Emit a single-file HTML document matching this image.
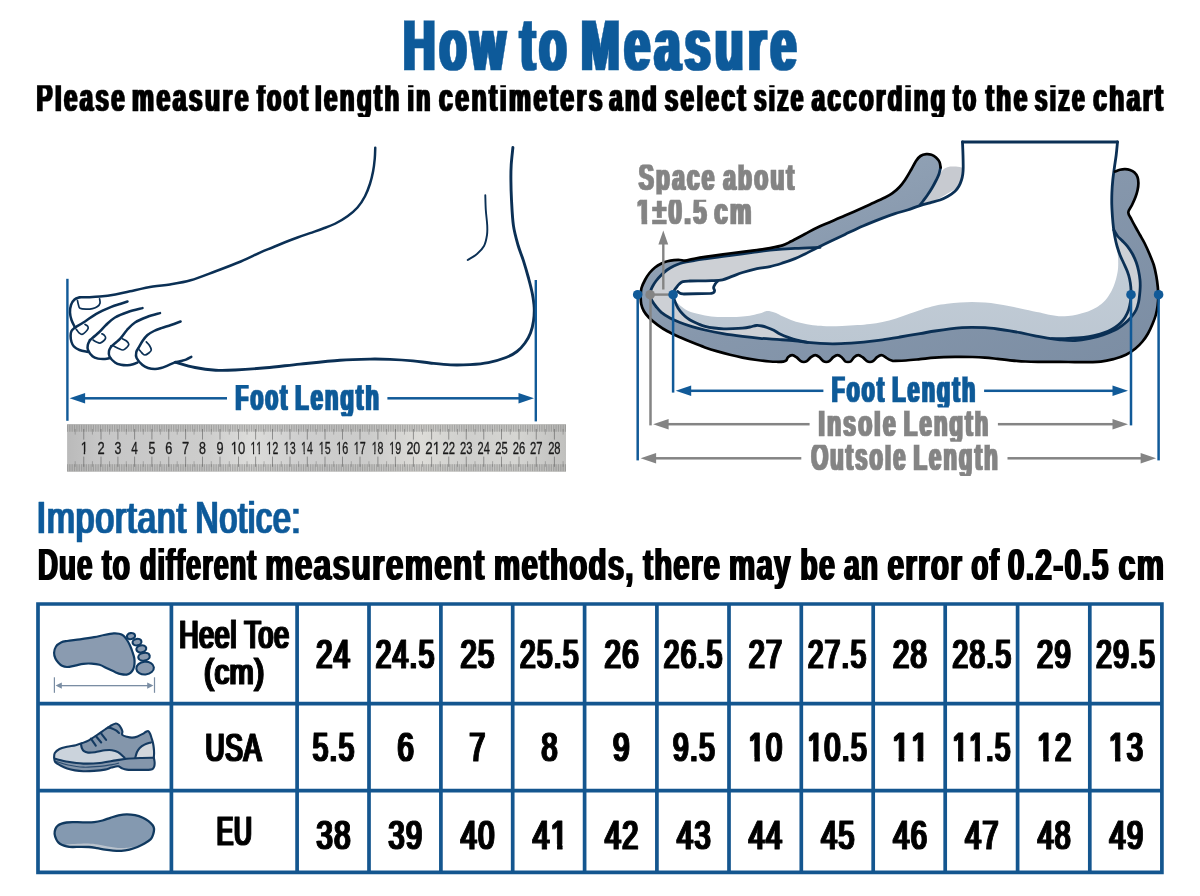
<!DOCTYPE html>
<html lang="en">
<head>
<meta charset="utf-8">
<title>How to Measure</title>
<style>
html,body{margin:0;padding:0;background:#fff;}
body{width:1200px;height:896px;overflow:hidden;font-family:"Liberation Sans", sans-serif;}
svg{display:block;}
text{font-family:"Liberation Sans", sans-serif;}
</style>
</head>
<body>
<svg width="1200" height="896" viewBox="0 0 1200 896">
<defs>
<linearGradient id="gSlate" x1="0" y1="0" x2="1" y2="1">
<stop offset="0" stop-color="#9aabbd"/><stop offset="0.5" stop-color="#8697ac"/><stop offset="1" stop-color="#7b8da3"/>
</linearGradient>
<linearGradient id="gSole" x1="0" y1="0" x2="0" y2="1">
<stop offset="0" stop-color="#8e9fb3"/><stop offset="1" stop-color="#7c8ea4"/>
</linearGradient>
<linearGradient id="gBand" x1="0" y1="0" x2="0" y2="1">
<stop offset="0" stop-color="#cdd5dd"/><stop offset="1" stop-color="#bcc7d2"/>
</linearGradient>
<linearGradient id="gRuler" x1="0" y1="0" x2="1" y2="0">
<stop offset="0" stop-color="#bababa"/><stop offset="0.06" stop-color="#c6c6c6"/><stop offset="0.28" stop-color="#cdcdcc"/><stop offset="0.37" stop-color="#dcdcda"/><stop offset="0.47" stop-color="#cecece"/><stop offset="0.6" stop-color="#cbcbca"/><stop offset="0.71" stop-color="#dddcd8"/><stop offset="0.8" stop-color="#cfcfcd"/><stop offset="0.9" stop-color="#d5d5d2"/><stop offset="1" stop-color="#c0c0be"/>
</linearGradient>
<pattern id="pTick" x="67.1" y="0" width="1.735" height="10" patternUnits="userSpaceOnUse">
<rect x="0" y="0" width="0.75" height="10" fill="#6e6e6e" opacity="0.5"/>
</pattern>
<filter id="d10" x="-2%" y="-10%" width="104%" height="120%"><feMorphology operator="dilate" radius="1 0"/></filter>
<filter id="d20" x="-2%" y="-10%" width="104%" height="120%"><feMorphology operator="dilate" radius="2 0"/></filter>
<filter id="d11" x="-2%" y="-10%" width="104%" height="120%"><feMorphology operator="dilate" radius="1 1"/></filter>
</defs>
<defs><clipPath id="k0"><rect x="0" y="20.6" width="1200" height="51.4"/></clipPath><clipPath id="k1"><rect x="0" y="85.3" width="1200" height="31.6"/></clipPath><clipPath id="k2"><rect x="0" y="384.9" width="1200" height="31.3"/></clipPath><clipPath id="c3"><path clip-rule="evenodd" d="M-400 -400H2000V400H-400ZM-0.91 -2.36H3.99V2.15H-0.91ZM5.73 -2.36H10.47V2.15H5.73Z"/></clipPath><clipPath id="c4"><path clip-rule="evenodd" d="M-400 -400H2000V400H-400ZM-0.91 -2.36H3.99V2.15H-0.91ZM5.73 -2.36H10.47V2.15H5.73Z"/></clipPath><clipPath id="c5"><path clip-rule="evenodd" d="M-400 -400H2000V400H-400ZM-0.91 -2.36H3.99V2.15H-0.91ZM5.73 -2.36H13.09V2.15H5.73ZM14.83 -2.36H19.58V2.15H14.83Z"/></clipPath><clipPath id="c6"><path clip-rule="evenodd" d="M-400 -400H2000V400H-400ZM-0.91 -2.36H3.99V2.15H-0.91ZM5.73 -2.36H10.47V2.15H5.73Z"/></clipPath><clipPath id="c7"><path clip-rule="evenodd" d="M-400 -400H2000V400H-400ZM-0.91 -2.36H3.99V2.15H-0.91ZM5.73 -2.36H10.47V2.15H5.73Z"/></clipPath><clipPath id="c8"><path clip-rule="evenodd" d="M-400 -400H2000V400H-400ZM-0.91 -2.36H3.99V2.15H-0.91ZM5.73 -2.36H10.47V2.15H5.73Z"/></clipPath><clipPath id="c9"><path clip-rule="evenodd" d="M-400 -400H2000V400H-400ZM-0.91 -2.36H3.99V2.15H-0.91ZM5.73 -2.36H10.47V2.15H5.73Z"/></clipPath><clipPath id="c10"><path clip-rule="evenodd" d="M-400 -400H2000V400H-400ZM-0.91 -2.36H3.99V2.15H-0.91ZM5.73 -2.36H10.47V2.15H5.73Z"/></clipPath><clipPath id="c11"><path clip-rule="evenodd" d="M-400 -400H2000V400H-400ZM-0.91 -2.36H3.99V2.15H-0.91ZM5.73 -2.36H10.47V2.15H5.73Z"/></clipPath><clipPath id="c12"><path clip-rule="evenodd" d="M-400 -400H2000V400H-400ZM-0.91 -2.36H3.99V2.15H-0.91ZM5.73 -2.36H10.47V2.15H5.73Z"/></clipPath><clipPath id="c13"><path clip-rule="evenodd" d="M-400 -400H2000V400H-400ZM-0.91 -2.36H3.99V2.15H-0.91ZM5.73 -2.36H10.47V2.15H5.73Z"/></clipPath><clipPath id="c14"><path clip-rule="evenodd" d="M-400 -400H2000V400H-400ZM8.2 -2.36H13.09V2.15H8.2ZM14.83 -2.36H19.58V2.15H14.83Z"/></clipPath><clipPath id="k15"><rect x="0" y="376.5" width="1200" height="30.9"/></clipPath><clipPath id="k16"><rect x="0" y="410.8" width="1200" height="30.9"/></clipPath><clipPath id="k17"><rect x="0" y="444.7" width="1200" height="31.4"/></clipPath><clipPath id="k18"><rect x="0" y="164.6" width="1200" height="30"/></clipPath><clipPath id="k19"><rect x="0" y="199.8" width="1200" height="26.2"/></clipPath><clipPath id="c20"><path clip-rule="evenodd" d="M-400 -400H2000V400H-400ZM-0.05 -5.01H8.22V2.3H-0.05ZM13.77 -5.01H21.49V2.3H13.77Z"/></clipPath><clipPath id="c21"><path clip-rule="evenodd" d="M-400 -400H2000V400H-400ZM0.55 -4.57H9.75V2.55H0.55ZM14.44 -4.57H23.28V2.55H14.44Z"/></clipPath><clipPath id="c22"><path clip-rule="evenodd" d="M-400 -400H2000V400H-400ZM0.55 -4.57H9.75V2.55H0.55ZM14.44 -4.57H23.28V2.55H14.44Z"/></clipPath><clipPath id="c23"><path clip-rule="evenodd" d="M-400 -400H2000V400H-400ZM0.55 -4.57H9.75V2.55H0.55ZM14.44 -4.57H23.28V2.55H14.44ZM25.28 -4.57H34.48V2.55H25.28ZM39.17 -4.57H48.01V2.55H39.17Z"/></clipPath><clipPath id="c24"><path clip-rule="evenodd" d="M-400 -400H2000V400H-400ZM0.55 -4.57H9.75V2.55H0.55ZM14.44 -4.57H23.28V2.55H14.44ZM25.28 -4.57H34.48V2.55H25.28ZM39.17 -4.57H48.01V2.55H39.17Z"/></clipPath><clipPath id="c25"><path clip-rule="evenodd" d="M-400 -400H2000V400H-400ZM0.55 -4.57H9.75V2.55H0.55ZM14.44 -4.57H23.28V2.55H14.44Z"/></clipPath><clipPath id="c26"><path clip-rule="evenodd" d="M-400 -400H2000V400H-400ZM0.55 -4.57H9.75V2.55H0.55ZM14.44 -4.57H23.28V2.55H14.44Z"/></clipPath><clipPath id="c27"><path clip-rule="evenodd" d="M-400 -400H2000V400H-400ZM25.28 -4.57H34.48V2.55H25.28ZM39.17 -4.57H48.01V2.55H39.17Z"/></clipPath></defs>
<g id="title" filter="url(#d20)"><g clip-path="url(#k0)">
<text transform="translate(403.22 69.7) scale(0.5947 1)" font-size="74.57" fill="#0e5a9a" font-weight="bold" stroke="#0e5a9a" stroke-width="0.6" stroke-linejoin="round" letter-spacing="7.08">How</text>
<text transform="translate(520.22 69.7) scale(0.5981 1)" font-size="74.57" fill="#0e5a9a" font-weight="bold" stroke="#0e5a9a" stroke-width="0.6" stroke-linejoin="round" letter-spacing="7.08">to</text>
<text transform="translate(581.09 69.7) scale(0.6237 1)" font-size="74.57" fill="#0e5a9a" font-weight="bold" stroke="#0e5a9a" stroke-width="0.6" stroke-linejoin="round" letter-spacing="7.08">Measure</text>
</g></g>
<g id="subtitle" filter="url(#d10)"><g clip-path="url(#k1)">
<text transform="translate(36.52 111.3) scale(0.6233 1)" font-size="38.53" fill="#000" font-weight="bold" stroke="#000" stroke-width="0.4" stroke-linejoin="round" letter-spacing="3.85">Please</text>
<text transform="translate(131.98 111.3) scale(0.6415 1)" font-size="38.53" fill="#000" font-weight="bold" stroke="#000" stroke-width="0.4" stroke-linejoin="round" letter-spacing="3.85">measure</text>
<text transform="translate(256.98 111.3) scale(0.6044 1)" font-size="38.53" fill="#000" font-weight="bold" stroke="#000" stroke-width="0.4" stroke-linejoin="round" letter-spacing="3.85">foot</text>
<text transform="translate(314.92 111.3) scale(0.6245 1)" font-size="38.53" fill="#000" font-weight="bold" stroke="#000" stroke-width="0.4" stroke-linejoin="round" letter-spacing="3.85">length</text>
<text transform="translate(407.48 111.3) scale(0.6005 1)" font-size="38.53" fill="#000" font-weight="bold" stroke="#000" stroke-width="0.4" stroke-linejoin="round" letter-spacing="3.85">in</text>
<text transform="translate(438.95 111.3) scale(0.6416 1)" font-size="38.53" fill="#000" font-weight="bold" stroke="#000" stroke-width="0.4" stroke-linejoin="round" letter-spacing="3.85">centimeters</text>
<text transform="translate(609.17 111.3) scale(0.6237 1)" font-size="38.53" fill="#000" font-weight="bold" stroke="#000" stroke-width="0.4" stroke-linejoin="round" letter-spacing="3.85">and</text>
<text transform="translate(664.72 111.3) scale(0.6285 1)" font-size="38.53" fill="#000" font-weight="bold" stroke="#000" stroke-width="0.4" stroke-linejoin="round" letter-spacing="3.85">select</text>
<text transform="translate(754.02 111.3) scale(0.5846 1)" font-size="38.53" fill="#000" font-weight="bold" stroke="#000" stroke-width="0.4" stroke-linejoin="round" letter-spacing="3.85">size</text>
<text transform="translate(811.68 111.3) scale(0.6225 1)" font-size="38.53" fill="#000" font-weight="bold" stroke="#000" stroke-width="0.4" stroke-linejoin="round" letter-spacing="3.85">according</text>
<text transform="translate(953.34 111.3) scale(0.5634 1)" font-size="38.53" fill="#000" font-weight="bold" stroke="#000" stroke-width="0.4" stroke-linejoin="round" letter-spacing="3.85">to</text>
<text transform="translate(985.82 111.3) scale(0.6316 1)" font-size="38.53" fill="#000" font-weight="bold" stroke="#000" stroke-width="0.4" stroke-linejoin="round" letter-spacing="3.85">the</text>
<text transform="translate(1034.76 111.3) scale(0.5907 1)" font-size="38.53" fill="#000" font-weight="bold" stroke="#000" stroke-width="0.4" stroke-linejoin="round" letter-spacing="3.85">size</text>
<text transform="translate(1093.21 111.3) scale(0.6359 1)" font-size="38.53" fill="#000" font-weight="bold" stroke="#000" stroke-width="0.4" stroke-linejoin="round" letter-spacing="3.85">chart</text>
</g></g>
<g id="foot-outline" fill="none" stroke="#0b3055" stroke-width="2.5" stroke-linecap="round" stroke-linejoin="round">
<path d="M375.25 147.8 C375.17 149.62 375.11 154.84 374.75 158.75 C374.39 162.66 373.89 167.08 373.1 171.25 C372.31 175.42 371.35 179.58 370 183.75 C368.65 187.92 367.08 192.29 365 196.25 C362.92 200.21 360.42 204.17 357.5 207.5 C354.58 210.83 351.25 213.54 347.5 216.25 C343.75 218.96 339.17 221.67 335 223.75 C330.83 225.83 326.67 227.19 322.5 228.75 C318.33 230.31 314.17 231.64 310 233.1 C305.83 234.56 301.67 235.97 297.5 237.5 C293.33 239.03 289.17 240.58 285 242.25 C280.83 243.92 276.67 245.78 272.5 247.5 C268.33 249.22 265.28 250.27 260 252.6 C254.72 254.93 248.3 258.35 240.8 261.5 C233.3 264.65 223.37 268.37 215 271.5 C206.63 274.63 198.1 278.13 190.6 280.3 C183.1 282.47 176.27 283.45 170 284.5 C163.73 285.55 159.67 285.47 153 286.6 C146.33 287.73 136.28 289.98 130 291.3 C123.72 292.62 120.3 293.62 115.3 294.5 C110.3 295.38 104.55 296.15 100 296.6 C95.45 297.05 91.33 297.1 88 297.2 C84.67 297.3 81.33 297.2 80 297.2"/>
<path d="M512.9 147.5 C512.62 150.42 511.53 159.58 511.2 165 C510.87 170.42 510.85 174.17 510.9 180 C510.95 185.83 511.08 192.43 511.5 200 C511.92 207.57 512.32 217.9 513.4 225.4 C514.48 232.9 516.33 239.13 518 245 C519.67 250.87 521.65 255.1 523.4 260.6 C525.15 266.1 527.03 272.6 528.5 278 C529.97 283.4 531.25 288.05 532.2 293 C533.15 297.95 533.98 303.03 534.2 307.7 C534.42 312.37 534.12 316.78 533.5 321 C532.88 325.22 531.92 329.33 530.5 333 C529.08 336.67 527.25 339.92 525 343 C522.75 346.08 520.17 349.08 517 351.5 C513.83 353.92 510.78 355.65 506 357.5 C501.22 359.35 494.3 361.42 488.3 362.6 C482.3 363.78 476.28 364.22 470 364.6 C463.72 364.98 457.27 365.17 450.6 364.9 C443.93 364.63 436.27 363.67 430 363 C423.73 362.33 419.67 361.5 413 360.9 C406.33 360.3 397.12 359.7 390 359.4 C382.88 359.1 378.63 358.97 370.3 359.1 C361.97 359.23 351.72 359.37 340 360.2 C328.28 361.03 312.33 362.83 300 364.1 C287.67 365.37 276.83 366.82 266 367.8 C255.17 368.78 243.38 369.6 235 370 C226.62 370.4 222.37 370.62 215.7 370.2 C209.03 369.78 201.7 368.83 195 367.5 C188.3 366.17 178.75 363.08 175.5 362.2" stroke-width="2.9"/>
<path d="M485.3 195.3 C485.38 197.75 485.48 205.05 485.8 210 C486.12 214.95 487 220.83 487.2 225 C487.4 229.17 487.53 231.5 487 235 C486.47 238.5 485.67 242.83 484 246 C482.33 249.17 479.72 251.67 477 254 C474.28 256.33 469.25 259 467.7 260" stroke-width="1.9"/>
<path d="M80 297.2 C79.08 297.58 76 298.2 74.5 299.5 C73 300.8 71.75 302.83 71 305 C70.25 307.17 69.92 310 70 312.5 C70.08 315 70.67 317.5 71.5 320 C72.33 322.5 74.42 326.25 75 327.5"/>
<path d="M75 327.5 C76.67 326.5 81.45 323.78 85 321.5 C88.55 319.22 91.92 316.23 96.3 313.8 C100.68 311.37 107.35 308.53 111.3 306.9 C115.25 305.27 117.3 304.9 120 304 C122.7 303.1 126.25 301.92 127.5 301.5"/>
<path d="M75 327.5 C74.42 328.08 72.23 329.58 71.5 331 C70.77 332.42 70.6 334.17 70.6 336 C70.6 337.83 70.97 340.28 71.5 342 C72.03 343.72 72.47 344.97 73.8 346.3 C75.13 347.63 77.22 349.07 79.5 350 C81.78 350.93 86.17 351.58 87.5 351.9"/>
<path d="M90 340 C91.47 338.75 96.13 335 98.8 332.5 C101.47 330 103.3 327.5 106 325 C108.7 322.5 111.33 319.67 115 317.5 C118.67 315.33 123.42 313.57 128 312 C132.58 310.43 140.08 308.75 142.5 308.1"/>
<path d="M90 340 C89.63 340.83 88.13 343.33 87.8 345 C87.47 346.67 87.22 348.12 88 350 C88.78 351.88 90.83 354.87 92.5 356.3 C94.17 357.73 95.92 358.15 98 358.6 C100.08 359.05 103 359.1 105 359 C107 358.9 109.17 358.17 110 358"/>
<path d="M111.3 346.3 C112.75 345.05 117.38 341.52 120 338.8 C122.62 336.08 124.5 332.72 127 330 C129.5 327.28 131.67 324.67 135 322.5 C138.33 320.33 142.83 318.57 147 317 C151.17 315.43 157.83 313.75 160 313.1"/>
<path d="M111.3 346.3 C110.92 347.08 109.3 349.3 109 351 C108.7 352.7 108.5 354.58 109.5 356.5 C110.5 358.42 113.08 361.12 115 362.5 C116.92 363.88 118.92 364.33 121 364.8 C123.08 365.27 125.5 365.38 127.5 365.3 C129.5 365.22 131.33 364.77 133 364.3 C134.67 363.83 136.75 362.8 137.5 362.5"/>
<path d="M138.8 347.5 C139.42 346.42 141.05 343.08 142.5 341 C143.95 338.92 145.58 336.67 147.5 335 C149.42 333.33 151.7 332.15 154 331 C156.3 329.85 158.47 329.1 161.3 328.1 C164.13 327.1 167.78 326.1 171 325 C174.22 323.9 179 322.08 180.6 321.5"/>
<path d="M138.8 347.5 C138.38 348.25 136.67 350.25 136.3 352 C135.93 353.75 135.57 355.83 136.6 358 C137.63 360.17 140.6 363.33 142.5 365 C144.4 366.67 145.92 367.33 148 368 C150.08 368.67 152.83 369 155 369 C157.17 369 158.92 368.57 161 368 C163.08 367.43 165.08 366.57 167.5 365.6 C169.92 364.63 174.17 362.77 175.5 362.2"/>
<path d="M175.5 362.2 C176.42 362 179.25 361.43 181 361 C182.75 360.57 184.28 360.28 186 359.6 C187.72 358.92 190.42 357.35 191.3 356.9"/>
<g stroke-width="1.7">
<path d="M77.5 300.6 C77.67 301.33 78.08 303.72 78.5 305 C78.92 306.28 78.75 307.6 80 308.3 C81.25 309 83.92 309.15 86 309.2 C88.08 309.25 90.58 309.05 92.5 308.6 C94.42 308.15 96.25 307.4 97.5 306.5 C98.75 305.6 99.65 304.48 100 303.2 C100.35 301.92 99.67 299.53 99.6 298.8"/>
<path d="M76.3 329.4 C76.75 329.97 78.05 331.97 79 332.8 C79.95 333.63 80.92 334.53 82 334.4 C83.08 334.27 84.48 333 85.5 332 C86.52 331 87.77 329.4 88.1 328.4 C88.43 327.4 88.02 326.67 87.5 326 C86.98 325.33 85.42 324.67 85 324.4"/>
<path d="M93.1 340 C93.67 340.33 95.35 341.48 96.5 342 C97.65 342.52 98.83 343.27 100 343.1 C101.17 342.93 102.57 341.85 103.5 341 C104.43 340.15 105.43 338.92 105.6 338 C105.77 337.08 105.12 336.2 104.5 335.5 C103.88 334.8 102.33 334.08 101.9 333.8"/>
<path d="M113.1 345.6 C113.92 346.03 116.33 347.47 118 348.2 C119.67 348.93 121.63 350.12 123.1 350 C124.57 349.88 125.85 348.47 126.8 347.5 C127.75 346.53 128.85 345.28 128.8 344.2 C128.75 343.12 127.55 341.9 126.5 341 C125.45 340.1 123.17 339.17 122.5 338.8"/>
<path d="M139.4 350 C139.83 350.5 141.07 352.17 142 353 C142.93 353.83 143.87 355 145 355 C146.13 355 147.75 353.83 148.8 353 C149.85 352.17 151.18 351.25 151.3 350 C151.42 348.75 150.33 346.85 149.5 345.5 C148.67 344.15 146.83 342.5 146.3 341.9"/>
</g>
</g>
<g id="left-measure">
<rect x="66.2" y="278.8" width="2.4" height="142" fill="#115a98"/>
<rect x="534.6" y="280" width="2.4" height="141.4" fill="#115a98"/>
<path d="M69.6 398.3L85.1 393.1L85.1 403.5Z" fill="#115a98"/><rect x="84.1" y="397.05" width="142.9" height="2.5" fill="#115a98"/>
<path d="M534 398.3L518.5 393.1L518.5 403.5Z" fill="#115a98"/><rect x="387.4" y="397.05" width="132.1" height="2.5" fill="#115a98"/>
<g id="label-left" filter="url(#d10)"><g clip-path="url(#k2)">
<text transform="translate(235.52 410.4) scale(0.5566 1)" font-size="37.75" fill="#115a98" font-weight="bold" stroke="#115a98" stroke-width="0.6" stroke-linejoin="round" letter-spacing="3.77">Foot</text>
<text transform="translate(295.22 410.4) scale(0.5782 1)" font-size="37.75" fill="#115a98" font-weight="bold" stroke="#115a98" stroke-width="0.6" stroke-linejoin="round" letter-spacing="3.77">Length</text>
</g></g>
</g>
<g id="ruler">
<rect x="67.1" y="424" width="498.9" height="47.8" fill="url(#gRuler)"/>
<rect x="67.1" y="424" width="498.9" height="7.4" fill="#b4b4b2" opacity="0.35"/>
<rect x="67.1" y="464.2" width="498.9" height="7.6" fill="#b4b4b2" opacity="0.35"/>
<rect x="67.1" y="424.8" width="498.9" height="7" fill="url(#pTick)"/>
<rect x="67.1" y="464.2" width="498.9" height="7" fill="url(#pTick)"/>
<g fill="#555" opacity="0.55"><rect x="83.25" y="429" width="1" height="10.6"/><rect x="83.25" y="456.6" width="1" height="10.2"/><rect x="91.92" y="429" width="0.9" height="5.6" opacity="0.7"/><rect x="91.92" y="461.2" width="0.9" height="5.6" opacity="0.7"/><rect x="100.5" y="429" width="1" height="10.6"/><rect x="100.5" y="456.6" width="1" height="10.2"/><rect x="109" y="429" width="0.9" height="5.6" opacity="0.7"/><rect x="109" y="461.2" width="0.9" height="5.6" opacity="0.7"/><rect x="117.4" y="429" width="1" height="10.6"/><rect x="117.4" y="456.6" width="1" height="10.2"/><rect x="125.8" y="429" width="0.9" height="5.6" opacity="0.7"/><rect x="125.8" y="461.2" width="0.9" height="5.6" opacity="0.7"/><rect x="134.1" y="429" width="1" height="10.6"/><rect x="134.1" y="456.6" width="1" height="10.2"/><rect x="142.8" y="429" width="0.9" height="5.6" opacity="0.7"/><rect x="142.8" y="461.2" width="0.9" height="5.6" opacity="0.7"/><rect x="151.4" y="429" width="1" height="10.6"/><rect x="151.4" y="456.6" width="1" height="10.2"/><rect x="159.88" y="429" width="0.9" height="5.6" opacity="0.7"/><rect x="159.88" y="461.2" width="0.9" height="5.6" opacity="0.7"/><rect x="168.25" y="429" width="1" height="10.6"/><rect x="168.25" y="456.6" width="1" height="10.2"/><rect x="176.73" y="429" width="0.9" height="5.6" opacity="0.7"/><rect x="176.73" y="461.2" width="0.9" height="5.6" opacity="0.7"/><rect x="185.1" y="429" width="1" height="10.6"/><rect x="185.1" y="456.6" width="1" height="10.2"/><rect x="193.6" y="429" width="0.9" height="5.6" opacity="0.7"/><rect x="193.6" y="461.2" width="0.9" height="5.6" opacity="0.7"/><rect x="202" y="429" width="1" height="10.6"/><rect x="202" y="456.6" width="1" height="10.2"/><rect x="210.8" y="429" width="0.9" height="5.6" opacity="0.7"/><rect x="210.8" y="461.2" width="0.9" height="5.6" opacity="0.7"/><rect x="219.5" y="429" width="1" height="10.6"/><rect x="219.5" y="456.6" width="1" height="10.2"/><rect x="228.8" y="429" width="0.9" height="5.6" opacity="0.7"/><rect x="228.8" y="461.2" width="0.9" height="5.6" opacity="0.7"/><rect x="238" y="429" width="1" height="10.6"/><rect x="238" y="456.6" width="1" height="10.2"/><rect x="246.6" y="429" width="0.9" height="5.6" opacity="0.7"/><rect x="246.6" y="461.2" width="0.9" height="5.6" opacity="0.7"/><rect x="255.1" y="429" width="1" height="10.6"/><rect x="255.1" y="456.6" width="1" height="10.2"/><rect x="263.6" y="429" width="0.9" height="5.6" opacity="0.7"/><rect x="263.6" y="461.2" width="0.9" height="5.6" opacity="0.7"/><rect x="272" y="429" width="1" height="10.6"/><rect x="272" y="456.6" width="1" height="10.2"/><rect x="280.8" y="429" width="0.9" height="5.6" opacity="0.7"/><rect x="280.8" y="461.2" width="0.9" height="5.6" opacity="0.7"/><rect x="289.5" y="429" width="1" height="10.6"/><rect x="289.5" y="456.6" width="1" height="10.2"/><rect x="298.2" y="429" width="0.9" height="5.6" opacity="0.7"/><rect x="298.2" y="461.2" width="0.9" height="5.6" opacity="0.7"/><rect x="306.8" y="429" width="1" height="10.6"/><rect x="306.8" y="456.6" width="1" height="10.2"/><rect x="315.7" y="429" width="0.9" height="5.6" opacity="0.7"/><rect x="315.7" y="461.2" width="0.9" height="5.6" opacity="0.7"/><rect x="324.5" y="429" width="1" height="10.6"/><rect x="324.5" y="456.6" width="1" height="10.2"/><rect x="333.3" y="429" width="0.9" height="5.6" opacity="0.7"/><rect x="333.3" y="461.2" width="0.9" height="5.6" opacity="0.7"/><rect x="342" y="429" width="1" height="10.6"/><rect x="342" y="456.6" width="1" height="10.2"/><rect x="350.8" y="429" width="0.9" height="5.6" opacity="0.7"/><rect x="350.8" y="461.2" width="0.9" height="5.6" opacity="0.7"/><rect x="359.5" y="429" width="1" height="10.6"/><rect x="359.5" y="456.6" width="1" height="10.2"/><rect x="368.5" y="429" width="0.9" height="5.6" opacity="0.7"/><rect x="368.5" y="461.2" width="0.9" height="5.6" opacity="0.7"/><rect x="377.4" y="429" width="1" height="10.6"/><rect x="377.4" y="456.6" width="1" height="10.2"/><rect x="386.2" y="429" width="0.9" height="5.6" opacity="0.7"/><rect x="386.2" y="461.2" width="0.9" height="5.6" opacity="0.7"/><rect x="394.9" y="429" width="1" height="10.6"/><rect x="394.9" y="456.6" width="1" height="10.2"/><rect x="403.95" y="429" width="0.9" height="5.6" opacity="0.7"/><rect x="403.95" y="461.2" width="0.9" height="5.6" opacity="0.7"/><rect x="412.9" y="429" width="1" height="10.6"/><rect x="412.9" y="456.6" width="1" height="10.2"/><rect x="422.05" y="429" width="0.9" height="5.6" opacity="0.7"/><rect x="422.05" y="461.2" width="0.9" height="5.6" opacity="0.7"/><rect x="431.1" y="429" width="1" height="10.6"/><rect x="431.1" y="456.6" width="1" height="10.2"/><rect x="439.73" y="429" width="0.9" height="5.6" opacity="0.7"/><rect x="439.73" y="461.2" width="0.9" height="5.6" opacity="0.7"/><rect x="448.25" y="429" width="1" height="10.6"/><rect x="448.25" y="456.6" width="1" height="10.2"/><rect x="457.05" y="429" width="0.9" height="5.6" opacity="0.7"/><rect x="457.05" y="461.2" width="0.9" height="5.6" opacity="0.7"/><rect x="465.75" y="429" width="1" height="10.6"/><rect x="465.75" y="456.6" width="1" height="10.2"/><rect x="474.55" y="429" width="0.9" height="5.6" opacity="0.7"/><rect x="474.55" y="461.2" width="0.9" height="5.6" opacity="0.7"/><rect x="483.25" y="429" width="1" height="10.6"/><rect x="483.25" y="456.6" width="1" height="10.2"/><rect x="492.18" y="429" width="0.9" height="5.6" opacity="0.7"/><rect x="492.18" y="461.2" width="0.9" height="5.6" opacity="0.7"/><rect x="501" y="429" width="1" height="10.6"/><rect x="501" y="456.6" width="1" height="10.2"/><rect x="509.8" y="429" width="0.9" height="5.6" opacity="0.7"/><rect x="509.8" y="461.2" width="0.9" height="5.6" opacity="0.7"/><rect x="518.5" y="429" width="1" height="10.6"/><rect x="518.5" y="456.6" width="1" height="10.2"/><rect x="527.17" y="429" width="0.9" height="5.6" opacity="0.7"/><rect x="527.17" y="461.2" width="0.9" height="5.6" opacity="0.7"/><rect x="535.75" y="429" width="1" height="10.6"/><rect x="535.75" y="456.6" width="1" height="10.2"/><rect x="544.88" y="429" width="0.9" height="5.6" opacity="0.7"/><rect x="544.88" y="461.2" width="0.9" height="5.6" opacity="0.7"/><rect x="553.9" y="429" width="1" height="10.6"/><rect x="553.9" y="456.6" width="1" height="10.2"/><rect x="562.65" y="429" width="0.9" height="5.6" opacity="0.7"/><rect x="562.65" y="461.2" width="0.9" height="5.6" opacity="0.7"/><rect x="74.7" y="429" width="0.9" height="5.6" opacity="0.7"/><rect x="74.7" y="461.2" width="0.9" height="5.6" opacity="0.7"/></g>
<g id="ruler-numbers">
<text transform="translate(80.63 454.01) scale(0.7860 1)" font-size="16.38" fill="#1a1a1a" stroke="#1a1a1a" stroke-width="0.3" stroke-linejoin="round" clip-path="url(#c3)" style="font-kerning:none">1</text>
<text transform="translate(97.42 454.01) scale(0.7884 1)" font-size="16.38" fill="#1a1a1a" stroke="#1a1a1a" stroke-width="0.3" stroke-linejoin="round">2</text>
<text transform="translate(114.5 454.01) scale(0.7551 1)" font-size="16.38" fill="#1a1a1a" stroke="#1a1a1a" stroke-width="0.3" stroke-linejoin="round">3</text>
<text transform="translate(131.36 454.01) scale(0.7186 1)" font-size="16.38" fill="#1a1a1a" stroke="#1a1a1a" stroke-width="0.3" stroke-linejoin="round">4</text>
<text transform="translate(148.44 454.01) scale(0.7615 1)" font-size="16.38" fill="#1a1a1a" stroke="#1a1a1a" stroke-width="0.3" stroke-linejoin="round">5</text>
<text transform="translate(165.18 454.01) scale(0.7747 1)" font-size="16.38" fill="#1a1a1a" stroke="#1a1a1a" stroke-width="0.3" stroke-linejoin="round">6</text>
<text transform="translate(182.02 454.01) scale(0.7884 1)" font-size="16.38" fill="#1a1a1a" stroke="#1a1a1a" stroke-width="0.3" stroke-linejoin="round">7</text>
<text transform="translate(199.04 454.01) scale(0.7615 1)" font-size="16.38" fill="#1a1a1a" stroke="#1a1a1a" stroke-width="0.3" stroke-linejoin="round">8</text>
<text transform="translate(216.48 454.01) scale(0.7747 1)" font-size="16.38" fill="#1a1a1a" stroke="#1a1a1a" stroke-width="0.3" stroke-linejoin="round">9</text>
<text transform="translate(230.87 454.01) scale(0.7958 1)" font-size="16.38" fill="#1a1a1a" stroke="#1a1a1a" stroke-width="0.3" stroke-linejoin="round" clip-path="url(#c4)" style="font-kerning:none">10</text>
<text transform="translate(250.51 454.01) scale(0.6268 1)" font-size="16.38" fill="#1a1a1a" stroke="#1a1a1a" stroke-width="0.3" stroke-linejoin="round" clip-path="url(#c5)" style="font-kerning:none">11</text>
<text transform="translate(266.26 454.01) scale(0.6656 1)" font-size="16.38" fill="#1a1a1a" stroke="#1a1a1a" stroke-width="0.3" stroke-linejoin="round" clip-path="url(#c6)" style="font-kerning:none">12</text>
<text transform="translate(283.77 454.01) scale(0.6544 1)" font-size="16.38" fill="#1a1a1a" stroke="#1a1a1a" stroke-width="0.3" stroke-linejoin="round" clip-path="url(#c7)" style="font-kerning:none">13</text>
<text transform="translate(301.09 454.01) scale(0.6435 1)" font-size="16.38" fill="#1a1a1a" stroke="#1a1a1a" stroke-width="0.3" stroke-linejoin="round" clip-path="url(#c8)" style="font-kerning:none">14</text>
<text transform="translate(318.78 454.01) scale(0.6516 1)" font-size="16.38" fill="#1a1a1a" stroke="#1a1a1a" stroke-width="0.3" stroke-linejoin="round" clip-path="url(#c9)" style="font-kerning:none">15</text>
<text transform="translate(336.27 454.01) scale(0.6544 1)" font-size="16.38" fill="#1a1a1a" stroke="#1a1a1a" stroke-width="0.3" stroke-linejoin="round" clip-path="url(#c10)" style="font-kerning:none">16</text>
<text transform="translate(353.77 454.01) scale(0.6571 1)" font-size="16.38" fill="#1a1a1a" stroke="#1a1a1a" stroke-width="0.3" stroke-linejoin="round" clip-path="url(#c11)" style="font-kerning:none">17</text>
<text transform="translate(371.68 454.01) scale(0.6516 1)" font-size="16.38" fill="#1a1a1a" stroke="#1a1a1a" stroke-width="0.3" stroke-linejoin="round" clip-path="url(#c12)" style="font-kerning:none">18</text>
<text transform="translate(389.17 454.01) scale(0.6544 1)" font-size="16.38" fill="#1a1a1a" stroke="#1a1a1a" stroke-width="0.3" stroke-linejoin="round" clip-path="url(#c13)" style="font-kerning:none">19</text>
<text transform="translate(406.39 454.01) scale(0.7609 1)" font-size="16.38" fill="#1a1a1a" stroke="#1a1a1a" stroke-width="0.3" stroke-linejoin="round">20</text>
<text transform="translate(425.19 454.01) scale(0.8237 1)" font-size="16.38" fill="#1a1a1a" stroke="#1a1a1a" stroke-width="0.3" stroke-linejoin="round" clip-path="url(#c14)" style="font-kerning:none">21</text>
<text transform="translate(442.49 454.01) scale(0.6872 1)" font-size="16.38" fill="#1a1a1a" stroke="#1a1a1a" stroke-width="0.3" stroke-linejoin="round">22</text>
<text transform="translate(459.99 454.01) scale(0.6844 1)" font-size="16.38" fill="#1a1a1a" stroke="#1a1a1a" stroke-width="0.3" stroke-linejoin="round">23</text>
<text transform="translate(477.5 454.01) scale(0.6735 1)" font-size="16.38" fill="#1a1a1a" stroke="#1a1a1a" stroke-width="0.3" stroke-linejoin="round">24</text>
<text transform="translate(495.24 454.01) scale(0.6816 1)" font-size="16.38" fill="#1a1a1a" stroke="#1a1a1a" stroke-width="0.3" stroke-linejoin="round">25</text>
<text transform="translate(512.74 454.01) scale(0.6844 1)" font-size="16.38" fill="#1a1a1a" stroke="#1a1a1a" stroke-width="0.3" stroke-linejoin="round">26</text>
<text transform="translate(529.99 454.01) scale(0.6872 1)" font-size="16.38" fill="#1a1a1a" stroke="#1a1a1a" stroke-width="0.3" stroke-linejoin="round">27</text>
<text transform="translate(548.14 454.01) scale(0.6816 1)" font-size="16.38" fill="#1a1a1a" stroke="#1a1a1a" stroke-width="0.3" stroke-linejoin="round">28</text>
</g>
</g>
<g id="shoe">
<path d="M640.6 296 C640.75 294.67 640.77 290.67 641.5 288 C642.23 285.33 643.67 282.5 645 280 C646.33 277.5 647.83 275.08 649.5 273 C651.17 270.92 653.08 269.05 655 267.5 C656.92 265.95 658.92 264.73 661 263.7 C663.08 262.67 665.33 261.88 667.5 261.3 C669.67 260.72 671.92 260.42 674 260.2 C676.08 259.98 678.17 259.93 680 260 C681.83 260.07 682.67 260.8 685 260.6 C687.33 260.4 690.67 259.42 694 258.8 C697.33 258.18 700.17 257.65 705 256.9 C709.83 256.15 716.75 255.13 723 254.3 C729.25 253.47 736.83 252.62 742.5 251.9 C748.17 251.18 752.42 250.63 757 250 C761.58 249.37 765.75 248.87 770 248.1 C774.25 247.33 778.95 246.53 782.5 245.4 C786.05 244.27 787.55 243.2 791.3 241.3 C795.05 239.4 800.22 236.5 805 234 C809.78 231.5 813.33 229.37 820 226.3 C826.67 223.23 836.67 219.25 845 215.6 C853.33 211.95 863.33 207.42 870 204.4 C876.67 201.38 881.25 199.37 885 197.5 C888.75 195.63 890.08 194.95 892.5 193.2 C894.92 191.45 897.42 189.2 899.5 187 C901.58 184.8 903.08 182.83 905 180 C906.92 177.17 909.17 173.17 911 170 C912.83 166.83 914.42 163.33 916 161 C917.58 158.67 918.78 157.13 920.5 156 C922.22 154.87 924.47 154.4 926.3 154.2 C928.13 154 929.88 154.25 931.5 154.8 C933.12 155.35 934.67 156.3 936 157.5 C937.33 158.7 938.73 160.33 939.5 162 C940.27 163.67 940.42 166.58 940.6 167.5 C940.33 168.58 939.72 171.92 939 174 C938.28 176.08 937.47 177.67 936.3 180 C935.13 182.33 933.47 185.5 932 188 C930.53 190.5 928.92 192.92 927.5 195 C926.08 197.08 924.75 198.83 923.5 200.5 C922.25 202.17 920.58 204.25 920 205 L1115 171.6 C1115.83 171.3 1118.33 170.2 1120 169.8 C1121.67 169.4 1123.33 169.17 1125 169.2 C1126.67 169.23 1128.42 169.45 1130 170 C1131.58 170.55 1133.25 171.33 1134.5 172.5 C1135.75 173.67 1136.85 175.25 1137.5 177 C1138.15 178.75 1138.38 180.83 1138.4 183 C1138.42 185.17 1138.08 187.67 1137.6 190 C1137.12 192.33 1136.43 194.5 1135.5 197 C1134.57 199.5 1133.2 202.45 1132 205 C1130.8 207.55 1128.38 209.88 1128.3 212.3 C1128.22 214.72 1130.3 217.05 1131.5 219.5 C1132.7 221.95 1134.08 224.42 1135.5 227 C1136.92 229.58 1138.5 232.33 1140 235 C1141.5 237.67 1142.92 239.83 1144.5 243 C1146.08 246.17 1147.95 250.33 1149.5 254 C1151.05 257.67 1152.67 261.33 1153.8 265 C1154.93 268.67 1155.63 272.33 1156.3 276 C1156.97 279.67 1157.47 283.67 1157.8 287 C1158.13 290.33 1158.33 292.83 1158.3 296 C1158.27 299.17 1158.02 302.83 1157.6 306 C1157.18 309.17 1156.65 312 1155.8 315 C1154.95 318 1153.8 320.92 1152.5 324 C1151.2 327.08 1149.67 330.58 1148 333.5 C1146.33 336.42 1144.58 339 1142.5 341.5 C1140.42 344 1138.25 346.28 1135.5 348.5 C1132.75 350.72 1129.58 353.05 1126 354.8 C1122.42 356.55 1118.2 357.87 1114 359 C1109.8 360.13 1106.47 361.07 1100.8 361.6 C1095.13 362.13 1086.8 362.17 1080 362.2 C1073.2 362.23 1066.67 361.87 1060 361.8 C1053.33 361.73 1045.75 361.85 1040 361.8 C1034.25 361.75 1030.5 361.75 1025.5 361.5 C1020.5 361.25 1014.67 360.73 1010 360.3 C1005.33 359.87 1001.67 359.35 997.5 358.9 C993.33 358.45 989.17 357.92 985 357.6 C980.83 357.28 977.5 357.12 972.5 357 C967.5 356.88 961.25 356.8 955 356.9 C948.75 357 940.83 357.22 935 357.6 C929.17 357.98 924.83 358.72 920 359.2 C915.17 359.68 910.5 360.2 906 360.5 C901.5 360.8 895.17 360.92 893 361 C888 359.53 886.7 358 885.5 357.2 C884.3 356.4 882.7 355.2 881.3 355.2 C879.9 355.2 878.48 356.2 877.1 357.2 C875.72 358.2 874.18 360.4 873 361.2 C871.82 362 871 362 870 362 C869 362 868.25 362 867 361.2 C865.75 360.4 863.95 358.2 862.5 357.2 C861.05 356.2 859.7 355.2 858.3 355.2 C856.9 355.2 855.32 356.2 854.1 357.2 C852.88 358.2 852.02 360.4 851 361.2 C849.98 362 849 362 848 362 C847 362 846.05 362 845 361.2 C843.95 360.4 842.95 358.2 841.7 357.2 C840.45 356.2 838.9 355.2 837.5 355.2 C836.1 355.2 834.67 356.2 833.3 357.2 C831.93 358.2 830.47 360.4 829.3 361.2 C828.13 362 827.3 362 826.3 362 C825.3 362 824.45 362 823.3 361.2 C822.15 360.4 820.75 358.2 819.4 357.2 C818.05 356.2 816.6 355.2 815.2 355.2 C813.8 355.2 812.4 356.2 811 357.2 C809.6 358.2 808 360.4 806.8 361.2 C805.6 362 804.8 362 803.8 362 C802.8 362 802.03 362 800.8 361.2 C799.57 360.4 797.83 358.2 796.4 357.2 C794.97 356.2 793.6 355.2 792.2 355.2 C790.8 355.2 789 356.3 788 357.2 C787 358.1 787.03 359.87 786.2 360.6 C785.37 361.33 784.37 361.4 783 361.6 C781.63 361.8 778.83 361.77 778 361.8 C776.67 361.75 773.5 361.8 770 361.5 C766.5 361.2 761.58 360.65 757 360 C752.42 359.35 747 358.47 742.5 357.6 C738 356.73 734.17 355.83 730 354.8 C725.83 353.77 721.67 352.63 717.5 351.4 C713.33 350.17 709.17 348.87 705 347.4 C700.83 345.93 696.67 344.28 692.5 342.6 C688.33 340.92 684.17 339.18 680 337.3 C675.83 335.42 671.25 333.38 667.5 331.3 C663.75 329.22 660.62 327.1 657.5 324.8 C654.38 322.5 651.08 319.8 648.8 317.5 C646.52 315.2 645.07 313.25 643.8 311 C642.53 308.75 641.73 306.5 641.2 304 C640.67 301.5 640.7 297.33 640.6 296Z" fill="url(#gSlate)"/>
<path d="M650 294.6 C650.13 293.92 650.38 291.85 650.8 290.5 C651.22 289.15 651.63 288.08 652.5 286.5 C653.37 284.92 654.53 282.92 656 281 C657.47 279.08 659.47 276.83 661.3 275 C663.13 273.17 664.92 271.5 667 270 C669.08 268.5 671.63 267.08 673.8 266 C675.97 264.92 677.92 264.18 680 263.5 C682.08 262.82 683.8 262.42 686.3 261.9 C688.8 261.38 691.88 260.9 695 260.4 C698.12 259.9 700.33 259.58 705 258.9 C709.67 258.22 716.75 257.15 723 256.3 C729.25 255.45 736.83 254.55 742.5 253.8 C748.17 253.05 752.42 252.4 757 251.8 C761.58 251.2 767.83 250.47 770 250.2 L820 247.6 L830 300 L1100 300 L1113.8 230 C1114.42 231 1116.13 234.25 1117.5 236 C1118.87 237.75 1120.33 238.78 1122 240.5 C1123.67 242.22 1125.75 244.05 1127.5 246.3 C1129.25 248.55 1131.03 251.3 1132.5 254 C1133.97 256.7 1135.28 259.67 1136.3 262.5 C1137.32 265.33 1137.98 268.08 1138.6 271 C1139.22 273.92 1139.73 277.33 1140 280 C1140.27 282.67 1140.27 284.5 1140.2 287 C1140.13 289.5 1139.87 292.5 1139.6 295 C1139.33 297.5 1139.15 299.58 1138.6 302 C1138.05 304.42 1137.32 307.25 1136.3 309.5 C1135.28 311.75 1133.97 313.58 1132.5 315.5 C1131.03 317.42 1129.25 319.32 1127.5 321 C1125.75 322.68 1124.08 324.1 1122 325.6 C1119.92 327.1 1118.17 328.47 1115 330 C1111.83 331.53 1107.17 333.4 1103 334.8 C1098.83 336.2 1094.67 337.45 1090 338.4 C1085.33 339.35 1080 340.27 1075 340.5 C1070 340.73 1064.58 340.18 1060 339.8 C1055.42 339.42 1051.67 338.87 1047.5 338.2 C1043.33 337.53 1039.17 336.63 1035 335.8 C1030.83 334.97 1026.67 334.03 1022.5 333.2 C1018.33 332.37 1014.17 331.5 1010 330.8 C1005.83 330.1 1001.67 329.52 997.5 329 C993.33 328.48 989.17 327.98 985 327.7 C980.83 327.42 976.33 327.32 972.5 327.3 C968.67 327.28 965.75 327.35 962 327.6 C958.25 327.85 954.5 328.23 950 328.8 C945.5 329.37 940 330.2 935 331 C930 331.8 925.83 332.6 920 333.6 C914.17 334.6 906.25 335.97 900 337 C893.75 338.03 887.5 339.07 882.5 339.8 C877.5 340.53 874.17 340.93 870 341.4 C865.83 341.87 861.67 342.27 857.5 342.6 C853.33 342.93 849.17 343.2 845 343.4 C840.83 343.6 836.67 343.8 832.5 343.8 C828.33 343.8 824.17 343.63 820 343.4 C815.83 343.17 811.67 342.83 807.5 342.4 C803.33 341.97 799.58 341.27 795 340.8 C790.42 340.33 785.83 340.02 780 339.6 C774.17 339.18 766.25 338.83 760 338.3 C753.75 337.77 748.67 337.18 742.5 336.4 C736.33 335.62 729.25 334.67 723 333.6 C716.75 332.53 710.17 331.17 705 330 C699.83 328.83 696.17 327.85 692 326.6 C687.83 325.35 683.67 323.93 680 322.5 C676.33 321.07 673.12 319.7 670 318 C666.88 316.3 663.63 314.22 661.3 312.3 C658.97 310.38 657.47 308.3 656 306.5 C654.53 304.7 653.37 302.92 652.5 301.5 C651.63 300.08 651.22 299.15 650.8 298 C650.38 296.85 650.13 295.17 650 294.6Z" fill="#cdd0d5"/>
<path d="M941.5 171.5 C942.08 170.97 943.58 169.12 945 168.3 C946.42 167.48 948.17 166.88 950 166.6 C951.83 166.32 953.83 166.4 956 166.6 C958.17 166.8 961.83 167.6 963 167.8 L962 185 L930 204 L921 205.3 Z" fill="#c7cad0"/>
<path d="M673.1 294.6 C673.25 294 673.47 292.17 674 291 C674.53 289.83 675.42 288.77 676.3 287.6 C677.18 286.43 678.18 285 679.3 284 C680.42 283 681.22 282.1 683 281.6 C684.78 281.1 687.17 281.13 690 281 C692.83 280.87 696.33 280.85 700 280.8 C703.67 280.75 708.25 280.87 712 280.7 C715.75 280.53 719.17 280.52 722.5 279.8 C725.83 279.08 728.67 277.62 732 276.4 C735.33 275.18 738.33 273.8 742.5 272.5 C746.67 271.2 752.42 269.58 757 268.6 C761.58 267.62 765.83 267.5 770 266.6 C774.17 265.7 777.83 264.53 782 263.2 C786.17 261.87 791.17 260.13 795 258.6 C798.83 257.07 801.87 255.53 805 254 C808.13 252.47 809.8 251.4 813.8 249.4 C817.8 247.4 823.8 244.5 829 242 C834.2 239.5 839.33 237.07 845 234.4 C850.67 231.73 856.75 228.72 863 226 C869.25 223.28 877.17 220.17 882.5 218.1 C887.83 216.03 890.83 214.95 895 213.6 C899.17 212.25 903.33 211.33 907.5 210 C911.67 208.67 916.25 206.8 920 205.6 C923.75 204.4 926.67 203.73 930 202.8 C933.33 201.87 937 201.08 940 200 C943 198.92 945.5 197.75 948 196.3 C950.5 194.85 953.17 193.02 955 191.3 C956.83 189.58 957.92 187.88 959 186 C960.08 184.12 960.87 182 961.5 180 C962.13 178 962.52 176.08 962.8 174 C963.08 171.92 963.17 170.67 963.2 167.5 C963.23 164.33 963.12 159.25 963 155 C962.88 150.75 962.58 144.17 962.5 142 L1117.5 142 C1117.28 144.17 1116.72 150.75 1116.2 155 C1115.68 159.25 1114.97 163.33 1114.4 167.5 C1113.83 171.67 1113.22 175.83 1112.8 180 C1112.38 184.17 1112.07 188.33 1111.9 192.5 C1111.73 196.67 1111.7 200.83 1111.8 205 C1111.9 209.17 1112.22 213.67 1112.5 217.5 C1112.78 221.33 1113.08 224.67 1113.5 228 C1113.92 231.33 1114.42 234.5 1115 237.5 C1115.58 240.5 1116.17 243.08 1117 246 C1117.83 248.92 1118.9 252.17 1120 255 C1121.1 257.83 1122.38 260.28 1123.6 263 C1124.82 265.72 1126.3 268.63 1127.3 271.3 C1128.3 273.97 1129.02 276.38 1129.6 279 C1130.18 281.62 1130.57 284.37 1130.8 287 C1131.03 289.63 1131.07 292.3 1131 294.8 C1130.93 297.3 1130.8 299.47 1130.4 302 C1130 304.53 1129.5 307.42 1128.6 310 C1127.7 312.58 1126.35 315.33 1125 317.5 C1123.65 319.67 1122.17 321.33 1120.5 323 C1118.83 324.67 1117.08 326.12 1115 327.5 C1112.92 328.88 1110.5 330.22 1108 331.3 C1105.5 332.38 1103.17 333.12 1100 334 C1096.83 334.88 1092.75 335.93 1089 336.6 C1085.25 337.27 1081.5 337.67 1077.5 338 C1073.5 338.33 1069.25 338.5 1065 338.6 C1060.75 338.7 1054.17 338.6 1052 338.6 L1047.5 338.2 C1045.42 337.8 1039.17 336.63 1035 335.8 C1030.83 334.97 1026.67 334.03 1022.5 333.2 C1018.33 332.37 1014.17 331.5 1010 330.8 C1005.83 330.1 1001.67 329.52 997.5 329 C993.33 328.48 989.17 327.98 985 327.7 C980.83 327.42 976.33 327.32 972.5 327.3 C968.67 327.28 965.75 327.35 962 327.6 C958.25 327.85 954.5 328.23 950 328.8 C945.5 329.37 940 330.2 935 331 C930 331.8 925.83 332.6 920 333.6 C914.17 334.6 906.25 335.97 900 337 C893.75 338.03 887.5 339.07 882.5 339.8 C877.5 340.53 874.17 340.93 870 341.4 C865.83 341.87 861.67 342.27 857.5 342.6 C853.33 342.93 849.17 343.2 845 343.4 C840.83 343.6 836.67 343.8 832.5 343.8 C828.33 343.8 824.17 343.63 820 343.4 C815.83 343.17 811.67 342.83 807.5 342.4 C803.33 341.97 797.08 341.07 795 340.8 C805.75 342.03 800.12 341 797 340.2 C793.88 339.4 791.63 338.63 788.8 337.6 C785.97 336.57 782.5 335.22 780 334 C777.5 332.78 775.97 331.38 773.8 330.3 C771.63 329.22 768.97 328.22 767 327.5 C765.03 326.78 763.78 326.33 762 326 C760.22 325.67 758.3 325.33 756.3 325.5 C754.3 325.67 752.3 326.57 750 327 C747.7 327.43 745.33 327.82 742.5 328.1 C739.67 328.38 736.12 328.58 733 328.7 C729.88 328.82 726.97 328.92 723.8 328.8 C720.63 328.68 717.13 328.42 714 328 C710.87 327.58 707.58 326.97 705 326.3 C702.42 325.63 700.58 324.83 698.5 324 C696.42 323.17 694.42 322.33 692.5 321.3 C690.58 320.27 688.67 319.05 687 317.8 C685.33 316.55 684 315.43 682.5 313.8 C681 312.17 679.25 310.05 678 308 C676.75 305.95 675.7 303.17 675 301.5 C674.3 299.83 674.12 299.15 673.8 298 C673.48 296.85 673.22 295.17 673.1 294.6Z" fill="url(#gBand)"/>
<path d="M673.1 294.6 C673.25 294 673.47 292.17 674 291 C674.53 289.83 675.42 288.77 676.3 287.6 C677.18 286.43 678.18 285 679.3 284 C680.42 283 681.22 282.1 683 281.6 C684.78 281.1 687.17 281.13 690 281 C692.83 280.87 696.33 280.85 700 280.8 C703.67 280.75 708.25 280.87 712 280.7 C715.75 280.53 719.17 280.52 722.5 279.8 C725.83 279.08 728.67 277.62 732 276.4 C735.33 275.18 738.33 273.8 742.5 272.5 C746.67 271.2 752.42 269.58 757 268.6 C761.58 267.62 765.83 267.5 770 266.6 C774.17 265.7 777.83 264.53 782 263.2 C786.17 261.87 791.17 260.13 795 258.6 C798.83 257.07 801.87 255.53 805 254 C808.13 252.47 809.8 251.4 813.8 249.4 C817.8 247.4 823.8 244.5 829 242 C834.2 239.5 839.33 237.07 845 234.4 C850.67 231.73 856.75 228.72 863 226 C869.25 223.28 877.17 220.17 882.5 218.1 C887.83 216.03 890.83 214.95 895 213.6 C899.17 212.25 903.33 211.33 907.5 210 C911.67 208.67 916.25 206.8 920 205.6 C923.75 204.4 926.67 203.73 930 202.8 C933.33 201.87 937 201.08 940 200 C943 198.92 945.5 197.75 948 196.3 C950.5 194.85 953.17 193.02 955 191.3 C956.83 189.58 957.92 187.88 959 186 C960.08 184.12 960.87 182 961.5 180 C962.13 178 962.52 176.08 962.8 174 C963.08 171.92 963.17 170.67 963.2 167.5 C963.23 164.33 963.12 159.25 963 155 C962.88 150.75 962.58 144.17 962.5 142 L1117.5 142 C1117.28 144.17 1116.72 150.75 1116.2 155 C1115.68 159.25 1114.97 163.33 1114.4 167.5 C1113.83 171.67 1113.22 175.83 1112.8 180 C1112.38 184.17 1112.07 188.33 1111.9 192.5 C1111.73 196.67 1111.7 200.83 1111.8 205 C1111.9 209.17 1112.22 213.67 1112.5 217.5 C1112.78 221.33 1113.08 224.67 1113.5 228 C1113.92 231.33 1114.75 235.92 1115 237.5 C1114.83 238.97 1115.92 243.05 1116.5 246.3 C1117.08 249.55 1117.73 253.47 1118 257 C1118.27 260.53 1118.27 264.5 1118.1 267.5 C1117.93 270.5 1117.52 272.5 1117 275 C1116.48 277.5 1115.83 280 1115 282.5 C1114.17 285 1113.25 287.5 1112 290 C1110.75 292.5 1109.08 295.33 1107.5 297.5 C1105.92 299.67 1104.37 301.33 1102.5 303 C1100.63 304.67 1098.72 306.08 1096.3 307.5 C1093.88 308.92 1091.13 310.35 1088 311.5 C1084.87 312.65 1080.83 313.67 1077.5 314.4 C1074.17 315.13 1071.12 315.6 1068 315.9 C1064.88 316.2 1061.97 316.38 1058.8 316.2 C1055.63 316.02 1052.13 315.4 1049 314.8 C1045.87 314.2 1044 313.5 1040 312.6 C1036 311.7 1030 310.45 1025 309.4 C1020 308.35 1014.67 307.2 1010 306.3 C1005.33 305.4 1001.17 304.62 997 304 C992.83 303.38 989.17 302.92 985 302.6 C980.83 302.28 976.17 302.1 972 302.1 C967.83 302.1 964.17 302.32 960 302.6 C955.83 302.88 951.17 303.27 947 303.8 C942.83 304.33 939.17 304.87 935 305.8 C930.83 306.73 926.17 308.1 922 309.4 C917.83 310.7 914.33 312.1 910 313.6 C905.67 315.1 900.58 317.02 896 318.4 C891.42 319.78 886.83 320.98 882.5 321.9 C878.17 322.82 874.17 323.37 870 323.9 C865.83 324.43 862.17 324.73 857.5 325.1 C852.83 325.47 847.2 325.9 842 326.1 C836.8 326.3 831.13 326.43 826.3 326.3 C821.47 326.17 817.17 325.83 813 325.3 C808.83 324.77 804.97 323.98 801.3 323.1 C797.63 322.22 794.13 321.13 791 320 C787.87 318.87 785 317.47 782.5 316.3 C780 315.13 778.08 313.85 776 313 C773.92 312.15 771.83 311.45 770 311.2 C768.17 310.95 766.45 311.18 765 311.5 C763.55 311.82 763.47 312.48 761.3 313.1 C759.13 313.72 755.13 314.65 752 315.2 C748.87 315.75 746.17 316.1 742.5 316.4 C738.83 316.7 734.17 316.92 730 317 C725.83 317.08 721.67 317.17 717.5 316.9 C713.33 316.63 709.17 316.13 705 315.4 C700.83 314.67 696 313.67 692.5 312.5 C689 311.33 686.5 309.97 684 308.4 C681.5 306.83 679.1 304.75 677.5 303.1 C675.9 301.45 675.13 299.92 674.4 298.5 C673.67 297.08 673.32 295.25 673.1 294.6Z" fill="#fff"/>
<g fill="none" stroke="#0b3055" stroke-width="2.8" stroke-linecap="round" stroke-linejoin="round">
<path d="M650 294.6 C650.13 293.92 650.38 291.85 650.8 290.5 C651.22 289.15 651.63 288.08 652.5 286.5 C653.37 284.92 654.53 282.92 656 281 C657.47 279.08 659.47 276.83 661.3 275 C663.13 273.17 664.92 271.5 667 270 C669.08 268.5 671.63 267.08 673.8 266 C675.97 264.92 677.92 264.18 680 263.5 C682.08 262.82 683.8 262.42 686.3 261.9 C688.8 261.38 691.88 260.9 695 260.4 C698.12 259.9 700.33 259.58 705 258.9 C709.67 258.22 716.75 257.15 723 256.3 C729.25 255.45 736.83 254.55 742.5 253.8 C748.17 253.05 752.42 252.4 757 251.8 C761.58 251.2 763.67 250.77 770 250.2 C776.33 249.63 786.67 248.87 795 248.4 C803.33 247.93 815.83 247.57 820 247.4"/>
<path d="M650 294.6 C650.13 295.17 650.38 296.85 650.8 298 C651.22 299.15 651.63 300.08 652.5 301.5 C653.37 302.92 654.53 304.7 656 306.5 C657.47 308.3 658.97 310.38 661.3 312.3 C663.63 314.22 666.88 316.3 670 318 C673.12 319.7 676.33 321.07 680 322.5 C683.67 323.93 687.83 325.35 692 326.6 C696.17 327.85 699.83 328.83 705 330 C710.17 331.17 716.75 332.53 723 333.6 C729.25 334.67 736.33 335.62 742.5 336.4 C748.67 337.18 753.75 337.77 760 338.3 C766.25 338.83 774.17 339.18 780 339.6 C785.83 340.02 790.42 340.33 795 340.8 C799.58 341.27 803.33 341.97 807.5 342.4 C811.67 342.83 815.83 343.17 820 343.4 C824.17 343.63 828.33 343.8 832.5 343.8 C836.67 343.8 840.83 343.6 845 343.4 C849.17 343.2 853.33 342.93 857.5 342.6 C861.67 342.27 865.83 341.87 870 341.4 C874.17 340.93 877.5 340.53 882.5 339.8 C887.5 339.07 893.75 338.03 900 337 C906.25 335.97 914.17 334.6 920 333.6 C925.83 332.6 930 331.8 935 331 C940 330.2 945.5 329.37 950 328.8 C954.5 328.23 958.25 327.85 962 327.6 C965.75 327.35 968.67 327.28 972.5 327.3 C976.33 327.32 980.83 327.42 985 327.7 C989.17 327.98 993.33 328.48 997.5 329 C1001.67 329.52 1005.83 330.1 1010 330.8 C1014.17 331.5 1018.33 332.37 1022.5 333.2 C1026.67 334.03 1030.83 334.97 1035 335.8 C1039.17 336.63 1043.33 337.53 1047.5 338.2 C1051.67 338.87 1055.42 339.42 1060 339.8 C1064.58 340.18 1070 340.73 1075 340.5 C1080 340.27 1085.33 339.35 1090 338.4 C1094.67 337.45 1098.83 336.2 1103 334.8 C1107.17 333.4 1111.83 331.53 1115 330 C1118.17 328.47 1119.92 327.1 1122 325.6 C1124.08 324.1 1125.75 322.68 1127.5 321 C1129.25 319.32 1131.03 317.42 1132.5 315.5 C1133.97 313.58 1135.28 311.75 1136.3 309.5 C1137.32 307.25 1138.05 304.42 1138.6 302 C1139.15 299.58 1139.33 297.5 1139.6 295 C1139.87 292.5 1140.13 289.5 1140.2 287 C1140.27 284.5 1140.27 282.67 1140 280 C1139.73 277.33 1139.22 273.92 1138.6 271 C1137.98 268.08 1137.32 265.33 1136.3 262.5 C1135.28 259.67 1133.97 256.7 1132.5 254 C1131.03 251.3 1129.25 248.55 1127.5 246.3 C1125.75 244.05 1123.67 242.22 1122 240.5 C1120.33 238.78 1118.87 237.75 1117.5 236 C1116.13 234.25 1114.42 231 1113.8 230"/>
<path d="M673.1 294.6 C673.25 294 673.47 292.17 674 291 C674.53 289.83 675.42 288.77 676.3 287.6 C677.18 286.43 678.18 285 679.3 284 C680.42 283 681.22 282.1 683 281.6 C684.78 281.1 687.17 281.13 690 281 C692.83 280.87 696.33 280.85 700 280.8 C703.67 280.75 708.25 280.87 712 280.7 C715.75 280.53 719.17 280.52 722.5 279.8 C725.83 279.08 728.67 277.62 732 276.4 C735.33 275.18 738.33 273.8 742.5 272.5 C746.67 271.2 752.42 269.58 757 268.6 C761.58 267.62 765.83 267.5 770 266.6 C774.17 265.7 777.83 264.53 782 263.2 C786.17 261.87 791.17 260.13 795 258.6 C798.83 257.07 801.87 255.53 805 254 C808.13 252.47 809.8 251.4 813.8 249.4 C817.8 247.4 823.8 244.5 829 242 C834.2 239.5 839.33 237.07 845 234.4 C850.67 231.73 856.75 228.72 863 226 C869.25 223.28 877.17 220.17 882.5 218.1 C887.83 216.03 890.83 214.95 895 213.6 C899.17 212.25 903.33 211.33 907.5 210 C911.67 208.67 916.25 206.8 920 205.6 C923.75 204.4 926.67 203.73 930 202.8 C933.33 201.87 937 201.08 940 200 C943 198.92 945.5 197.75 948 196.3 C950.5 194.85 953.17 193.02 955 191.3 C956.83 189.58 957.92 187.88 959 186 C960.08 184.12 960.87 182 961.5 180 C962.13 178 962.52 176.08 962.8 174 C963.08 171.92 963.17 170.67 963.2 167.5 C963.23 164.33 963.12 159.25 963 155 C962.88 150.75 962.58 144.17 962.5 142"/>
<path d="M962.5 142 L1117.5 142"/>
<path d="M1117.5 142 C1117.28 144.17 1116.72 150.75 1116.2 155 C1115.68 159.25 1114.97 163.33 1114.4 167.5 C1113.83 171.67 1113.22 175.83 1112.8 180 C1112.38 184.17 1112.07 188.33 1111.9 192.5 C1111.73 196.67 1111.7 200.83 1111.8 205 C1111.9 209.17 1112.22 213.67 1112.5 217.5 C1112.78 221.33 1113.08 224.67 1113.5 228 C1113.92 231.33 1114.42 234.5 1115 237.5 C1115.58 240.5 1116.17 243.08 1117 246 C1117.83 248.92 1118.9 252.17 1120 255 C1121.1 257.83 1122.38 260.28 1123.6 263 C1124.82 265.72 1126.3 268.63 1127.3 271.3 C1128.3 273.97 1129.02 276.38 1129.6 279 C1130.18 281.62 1130.57 284.37 1130.8 287 C1131.03 289.63 1131.07 292.3 1131 294.8 C1130.93 297.3 1130.8 299.47 1130.4 302 C1130 304.53 1129.5 307.42 1128.6 310 C1127.7 312.58 1126.35 315.33 1125 317.5 C1123.65 319.67 1122.17 321.33 1120.5 323 C1118.83 324.67 1117.08 326.12 1115 327.5 C1112.92 328.88 1110.5 330.22 1108 331.3 C1105.5 332.38 1103.17 333.12 1100 334 C1096.83 334.88 1092.75 335.93 1089 336.6 C1085.25 337.27 1081.5 337.67 1077.5 338 C1073.5 338.33 1069.25 338.5 1065 338.6 C1060.75 338.7 1054.17 338.6 1052 338.6"/>
<path d="M673.1 294.6 C673.22 295.17 673.48 296.85 673.8 298 C674.12 299.15 674.3 299.83 675 301.5 C675.7 303.17 676.75 305.95 678 308 C679.25 310.05 681 312.17 682.5 313.8 C684 315.43 685.33 316.55 687 317.8 C688.67 319.05 690.58 320.27 692.5 321.3 C694.42 322.33 696.42 323.17 698.5 324 C700.58 324.83 702.42 325.63 705 326.3 C707.58 326.97 710.87 327.58 714 328 C717.13 328.42 720.63 328.68 723.8 328.8 C726.97 328.92 729.88 328.82 733 328.7 C736.12 328.58 739.67 328.38 742.5 328.1 C745.33 327.82 747.7 327.43 750 327 C752.3 326.57 754.3 325.67 756.3 325.5 C758.3 325.33 760.22 325.67 762 326 C763.78 326.33 765.03 326.78 767 327.5 C768.97 328.22 771.63 329.22 773.8 330.3 C775.97 331.38 777.5 332.78 780 334 C782.5 335.22 785.97 336.57 788.8 337.6 C791.63 338.63 793.88 339.4 797 340.2 C800.12 341 805.75 342.03 807.5 342.4"/>
<path d="M940.6 167.5 C940.33 168.58 939.72 171.92 939 174 C938.28 176.08 937.47 177.67 936.3 180 C935.13 182.33 933.47 185.5 932 188 C930.53 190.5 928.92 192.92 927.5 195 C926.08 197.08 924.75 198.83 923.5 200.5 C922.25 202.17 920.58 204.25 920 205"/>
<path d="M717.5 281.4 C717.12 281.83 715.85 282.97 715.2 284 C714.55 285.03 713.7 286.5 713.6 287.6 C713.5 288.7 714.62 289.77 714.6 290.6 C714.58 291.43 714.1 292.13 713.5 292.6 C712.9 293.07 711.42 293.27 711 293.4 L683.5 294  C682.92 293.87 680.98 293.63 680 293.2 C679.02 292.77 678 291.7 677.6 291.4" fill="#fff"/>
</g>
<g fill="none" stroke="#000" stroke-width="2.7" stroke-linecap="round" stroke-linejoin="round">
<path d="M640.6 296 C640.75 294.67 640.77 290.67 641.5 288 C642.23 285.33 643.67 282.5 645 280 C646.33 277.5 647.83 275.08 649.5 273 C651.17 270.92 653.08 269.05 655 267.5 C656.92 265.95 658.92 264.73 661 263.7 C663.08 262.67 665.33 261.88 667.5 261.3 C669.67 260.72 671.92 260.42 674 260.2 C676.08 259.98 678.17 259.93 680 260 C681.83 260.07 682.67 260.8 685 260.6 C687.33 260.4 690.67 259.42 694 258.8 C697.33 258.18 700.17 257.65 705 256.9 C709.83 256.15 716.75 255.13 723 254.3 C729.25 253.47 736.83 252.62 742.5 251.9 C748.17 251.18 752.42 250.63 757 250 C761.58 249.37 765.75 248.87 770 248.1 C774.25 247.33 778.95 246.53 782.5 245.4 C786.05 244.27 787.55 243.2 791.3 241.3 C795.05 239.4 800.22 236.5 805 234 C809.78 231.5 813.33 229.37 820 226.3 C826.67 223.23 836.67 219.25 845 215.6 C853.33 211.95 863.33 207.42 870 204.4 C876.67 201.38 881.25 199.37 885 197.5 C888.75 195.63 890.08 194.95 892.5 193.2 C894.92 191.45 897.42 189.2 899.5 187 C901.58 184.8 903.08 182.83 905 180 C906.92 177.17 909.17 173.17 911 170 C912.83 166.83 914.42 163.33 916 161 C917.58 158.67 918.78 157.13 920.5 156 C922.22 154.87 924.47 154.4 926.3 154.2 C928.13 154 929.88 154.25 931.5 154.8 C933.12 155.35 934.67 156.3 936 157.5 C937.33 158.7 938.73 160.33 939.5 162 C940.27 163.67 940.42 166.58 940.6 167.5"/>
<path d="M1115 171.6 C1115.83 171.3 1118.33 170.2 1120 169.8 C1121.67 169.4 1123.33 169.17 1125 169.2 C1126.67 169.23 1128.42 169.45 1130 170 C1131.58 170.55 1133.25 171.33 1134.5 172.5 C1135.75 173.67 1136.85 175.25 1137.5 177 C1138.15 178.75 1138.38 180.83 1138.4 183 C1138.42 185.17 1138.08 187.67 1137.6 190 C1137.12 192.33 1136.43 194.5 1135.5 197 C1134.57 199.5 1133.2 202.45 1132 205 C1130.8 207.55 1128.38 209.88 1128.3 212.3 C1128.22 214.72 1130.3 217.05 1131.5 219.5 C1132.7 221.95 1134.08 224.42 1135.5 227 C1136.92 229.58 1138.5 232.33 1140 235 C1141.5 237.67 1142.92 239.83 1144.5 243 C1146.08 246.17 1147.95 250.33 1149.5 254 C1151.05 257.67 1152.67 261.33 1153.8 265 C1154.93 268.67 1155.63 272.33 1156.3 276 C1156.97 279.67 1157.47 283.67 1157.8 287 C1158.13 290.33 1158.33 292.83 1158.3 296 C1158.27 299.17 1158.02 302.83 1157.6 306 C1157.18 309.17 1156.65 312 1155.8 315 C1154.95 318 1153.8 320.92 1152.5 324 C1151.2 327.08 1149.67 330.58 1148 333.5 C1146.33 336.42 1144.58 339 1142.5 341.5 C1140.42 344 1138.25 346.28 1135.5 348.5 C1132.75 350.72 1129.58 353.05 1126 354.8 C1122.42 356.55 1118.2 357.87 1114 359 C1109.8 360.13 1106.47 361.07 1100.8 361.6 C1095.13 362.13 1086.8 362.17 1080 362.2 C1073.2 362.23 1066.67 361.87 1060 361.8 C1053.33 361.73 1045.75 361.85 1040 361.8 C1034.25 361.75 1030.5 361.75 1025.5 361.5 C1020.5 361.25 1014.67 360.73 1010 360.3 C1005.33 359.87 1001.67 359.35 997.5 358.9 C993.33 358.45 989.17 357.92 985 357.6 C980.83 357.28 977.5 357.12 972.5 357 C967.5 356.88 961.25 356.8 955 356.9 C948.75 357 940.83 357.22 935 357.6 C929.17 357.98 924.83 358.72 920 359.2 C915.17 359.68 910.5 360.2 906 360.5 C901.5 360.8 895.17 360.92 893 361 C888 359.53 886.7 358 885.5 357.2 C884.3 356.4 882.7 355.2 881.3 355.2 C879.9 355.2 878.48 356.2 877.1 357.2 C875.72 358.2 874.18 360.4 873 361.2 C871.82 362 871 362 870 362 C869 362 868.25 362 867 361.2 C865.75 360.4 863.95 358.2 862.5 357.2 C861.05 356.2 859.7 355.2 858.3 355.2 C856.9 355.2 855.32 356.2 854.1 357.2 C852.88 358.2 852.02 360.4 851 361.2 C849.98 362 849 362 848 362 C847 362 846.05 362 845 361.2 C843.95 360.4 842.95 358.2 841.7 357.2 C840.45 356.2 838.9 355.2 837.5 355.2 C836.1 355.2 834.67 356.2 833.3 357.2 C831.93 358.2 830.47 360.4 829.3 361.2 C828.13 362 827.3 362 826.3 362 C825.3 362 824.45 362 823.3 361.2 C822.15 360.4 820.75 358.2 819.4 357.2 C818.05 356.2 816.6 355.2 815.2 355.2 C813.8 355.2 812.4 356.2 811 357.2 C809.6 358.2 808 360.4 806.8 361.2 C805.6 362 804.8 362 803.8 362 C802.8 362 802.03 362 800.8 361.2 C799.57 360.4 797.83 358.2 796.4 357.2 C794.97 356.2 793.6 355.2 792.2 355.2 C790.8 355.2 789 356.3 788 357.2 C787 358.1 787.03 359.87 786.2 360.6 C785.37 361.33 784.37 361.4 783 361.6 C781.63 361.8 778.83 361.77 778 361.8 C776.67 361.75 773.5 361.8 770 361.5 C766.5 361.2 761.58 360.65 757 360 C752.42 359.35 747 358.47 742.5 357.6 C738 356.73 734.17 355.83 730 354.8 C725.83 353.77 721.67 352.63 717.5 351.4 C713.33 350.17 709.17 348.87 705 347.4 C700.83 345.93 696.67 344.28 692.5 342.6 C688.33 340.92 684.17 339.18 680 337.3 C675.83 335.42 671.25 333.38 667.5 331.3 C663.75 329.22 660.62 327.1 657.5 324.8 C654.38 322.5 651.08 319.8 648.8 317.5 C646.52 315.2 645.07 313.25 643.8 311 C642.53 308.75 641.73 306.5 641.2 304 C640.67 301.5 640.7 297.33 640.6 296"/>
</g>
</g>
<g id="right-measure">
<rect x="636.45" y="294.6" width="2.5" height="165.8" fill="#115a98"/>
<rect x="649.25" y="294.6" width="2.5" height="130.8" fill="#848484"/>
<rect x="671.85" y="294.6" width="2.5" height="98" fill="#115a98"/>
<rect x="1129.75" y="294.6" width="2.5" height="130.8" fill="#115a98"/>
<rect x="1157.35" y="294.6" width="2.5" height="165.8" fill="#115a98"/>
<rect x="650" y="293.4" width="23" height="2.4" fill="#848484"/>
<rect x="662.1" y="243" width="2.4" height="46.5" fill="#848484"/>
<path d="M663.3 230.4L658.4 244.6L668.2 244.6Z" fill="#848484"/>
<circle cx="650.1" cy="294.7" r="4.8" fill="#848484"/>
<circle cx="637.7" cy="294.7" r="4.8" fill="#115a98"/>
<circle cx="673.1" cy="294.7" r="4.8" fill="#115a98"/>
<circle cx="1131" cy="294.7" r="4.8" fill="#115a98"/>
<circle cx="1158.6" cy="294.7" r="4.8" fill="#115a98"/>
<path d="M675.7 390.8L691.2 385.6L691.2 396Z" fill="#115a98"/><rect x="690.2" y="389.55" width="133.2" height="2.5" fill="#115a98"/>
<path d="M1128 390.8L1112.5 385.6L1112.5 396Z" fill="#115a98"/><rect x="984.1" y="389.55" width="129.4" height="2.5" fill="#115a98"/>
<path d="M653.1 424.2L668.6 419L668.6 429.4Z" fill="#848484"/><rect x="667.6" y="422.95" width="142" height="2.5" fill="#848484"/>
<path d="M1128 424.2L1112.5 419L1112.5 429.4Z" fill="#848484"/><rect x="997.9" y="422.95" width="115.6" height="2.5" fill="#848484"/>
<path d="M640.6 458.3L656.1 453.1L656.1 463.5Z" fill="#848484"/><rect x="655.1" y="457.05" width="146.2" height="2.5" fill="#848484"/>
<path d="M1156.1 458.3L1140.6 453.1L1140.6 463.5Z" fill="#848484"/><rect x="1007.5" y="457.05" width="134.1" height="2.5" fill="#848484"/>
<g id="label-foot" filter="url(#d10)"><g clip-path="url(#k15)">
<text transform="translate(831.76 401.6) scale(0.5704 1)" font-size="37.13" fill="#115a98" font-weight="bold" stroke="#115a98" stroke-width="0.6" stroke-linejoin="round" letter-spacing="3.71">Foot</text>
<text transform="translate(892.13 401.6) scale(0.5835 1)" font-size="37.13" fill="#115a98" font-weight="bold" stroke="#115a98" stroke-width="0.6" stroke-linejoin="round" letter-spacing="3.71">Length</text>
</g></g>
<g id="label-insole" filter="url(#d10)"><g clip-path="url(#k16)">
<text transform="translate(818.57 435.9) scale(0.6115 1)" font-size="37.13" fill="#848484" font-weight="bold" stroke="#848484" stroke-width="0.6" stroke-linejoin="round" letter-spacing="3.71">Insole</text>
<text transform="translate(903.81 435.9) scale(0.5937 1)" font-size="37.13" fill="#848484" font-weight="bold" stroke="#848484" stroke-width="0.6" stroke-linejoin="round" letter-spacing="3.71">Length</text>
</g></g>
<g id="label-outsole" filter="url(#d10)"><g clip-path="url(#k17)">
<text transform="translate(811.16 470.3) scale(0.5757 1)" font-size="37.9" fill="#848484" font-weight="bold" stroke="#848484" stroke-width="0.6" stroke-linejoin="round" letter-spacing="3.79">Outsole</text>
<text transform="translate(913.51 470.3) scale(0.5787 1)" font-size="37.9" fill="#848484" font-weight="bold" stroke="#848484" stroke-width="0.6" stroke-linejoin="round" letter-spacing="3.79">Length</text>
</g></g>
<g id="label-space" filter="url(#d10)"><g clip-path="url(#k18)">
<text transform="translate(638.78 189.5) scale(0.6133 1)" font-size="36.82" fill="#848484" font-weight="bold" stroke="#848484" stroke-width="0.6" stroke-linejoin="round" letter-spacing="3.68">Space</text>
<text transform="translate(723.22 189.5) scale(0.6169 1)" font-size="36.82" fill="#848484" font-weight="bold" stroke="#848484" stroke-width="0.6" stroke-linejoin="round" letter-spacing="3.68">about</text>
</g></g>
<g id="label-space2" filter="url(#d10)"><g clip-path="url(#k19)">
<text transform="translate(637.09 224.45) scale(0.6617 1)" font-size="36.35" fill="#848484" font-weight="bold" stroke="#848484" stroke-width="0.6" stroke-linejoin="round" letter-spacing="3.64" clip-path="url(#c20)" style="font-kerning:none">1±0.5</text>
<text transform="translate(714.3 224.45) scale(0.6622 1)" font-size="36.35" fill="#848484" font-weight="bold" stroke="#848484" stroke-width="0.6" stroke-linejoin="round" letter-spacing="3.64">cm</text>
</g></g>
</g>
<g id="notice-title" filter="url(#d10)">
<text transform="translate(36.72 532.85) scale(0.7542 1)" font-size="44.34" fill="#0e5a9a" stroke="#0e5a9a" stroke-width="0.5" stroke-linejoin="round" letter-spacing="1.33">Important</text>
<text transform="translate(195.52 532.85) scale(0.7192 1)" font-size="44.34" fill="#0e5a9a" stroke="#0e5a9a" stroke-width="0.5" stroke-linejoin="round" letter-spacing="1.33">Notice:</text>
</g>
<g id="notice" filter="url(#d10)">
<text transform="translate(37.9 580.4) scale(0.6129 1)" font-size="45.24" fill="#000" font-weight="bold" letter-spacing="1.81">Due</text>
<text transform="translate(101.89 580.4) scale(0.6336 1)" font-size="45.24" fill="#000" font-weight="bold" letter-spacing="1.81">to</text>
<text transform="translate(139.88 580.4) scale(0.5958 1)" font-size="45.24" fill="#000" font-weight="bold" letter-spacing="1.81">different</text>
<text transform="translate(265.13 580.4) scale(0.7021 1)" font-size="45.24" fill="#000" font-weight="bold" letter-spacing="1.81">measurement</text>
<text transform="translate(494.03 580.4) scale(0.6524 1)" font-size="45.24" fill="#000" font-weight="bold" letter-spacing="1.81">methods,</text>
<text transform="translate(643.13 580.4) scale(0.6524 1)" font-size="45.24" fill="#000" font-weight="bold" letter-spacing="1.81">there</text>
<text transform="translate(729.03 580.4) scale(0.6522 1)" font-size="45.24" fill="#000" font-weight="bold" letter-spacing="1.81">may</text>
<text transform="translate(800.34 580.4) scale(0.6333 1)" font-size="45.24" fill="#000" font-weight="bold" letter-spacing="1.81">be</text>
<text transform="translate(843.92 580.4) scale(0.6285 1)" font-size="45.24" fill="#000" font-weight="bold" letter-spacing="1.81">an</text>
<text transform="translate(887.38 580.4) scale(0.6609 1)" font-size="45.24" fill="#000" font-weight="bold" letter-spacing="1.81">error</text>
<text transform="translate(971.19 580.4) scale(0.6225 1)" font-size="45.24" fill="#000" font-weight="bold" letter-spacing="1.81">of</text>
<text transform="translate(1007.75 580.4) scale(0.6649 1)" font-size="45.24" fill="#000" font-weight="bold" letter-spacing="1.81">0.2-0.5</text>
<text transform="translate(1118.6 580.4) scale(0.6771 1)" font-size="45.24" fill="#000" font-weight="bold" letter-spacing="1.81">cm</text>
</g>
<path id="grid" fill="#14568f" d="M36.15 602.15h3.7v272h-3.7zM169.55 602.15h3.7v272h-3.7zM295.25 602.15h3.7v272h-3.7zM367.15 602.15h3.7v272h-3.7zM439.05 602.15h3.7v272h-3.7zM510.85 602.15h3.7v272h-3.7zM582.75 602.15h3.7v272h-3.7zM655.05 602.15h3.7v272h-3.7zM727.15 602.15h3.7v272h-3.7zM799.45 602.15h3.7v272h-3.7zM871.35 602.15h3.7v272h-3.7zM943.35 602.15h3.7v272h-3.7zM1015.75 602.15h3.7v272h-3.7zM1087.95 602.15h3.7v272h-3.7zM1160.05 602.15h3.7v272h-3.7zM36.15 602.15h1127.6v3.7h-1127.6zM36.15 701.75h1127.6v3.7h-1127.6zM36.15 788.75h1127.6v3.7h-1127.6zM36.15 870.45h1127.6v3.7h-1127.6z"/>
<g id="table-labels" filter="url(#d10)">
<text transform="translate(179.17 648.45) scale(0.6996 1)" font-size="38.05" fill="#000" stroke="#000" stroke-width="1.1" stroke-linejoin="round" letter-spacing="1.14">Heel</text>
<text transform="translate(244.53 648.45) scale(0.6983 1)" font-size="38.05" fill="#000" stroke="#000" stroke-width="1.1" stroke-linejoin="round" letter-spacing="1.14">Toe</text>
<text transform="translate(204.36 683.88) scale(0.8070 1)" font-size="35.36" fill="#000" stroke="#000" stroke-width="1.1" stroke-linejoin="round" letter-spacing="1.06">(cm)</text>
<text transform="translate(205.59 761.12) scale(0.6676 1)" font-size="39.39" fill="#000" stroke="#000" stroke-width="1.1" stroke-linejoin="round" letter-spacing="1.18">USA</text>
<text transform="translate(216.77 845.41) scale(0.6104 1)" font-size="40.53" fill="#000" stroke="#000" stroke-width="1.1" stroke-linejoin="round" letter-spacing="1.22">EU</text>
</g>
<g id="table-text" filter="url(#d10)">
<text transform="translate(316.19 667.86) scale(0.7119 1)" font-size="40.8" fill="#000" stroke="#000" stroke-width="1.1" stroke-linejoin="round" letter-spacing="2.04">24</text>
<text transform="translate(375.73 667.86) scale(0.6848 1)" font-size="40.8" fill="#000" stroke="#000" stroke-width="1.1" stroke-linejoin="round" letter-spacing="2.04">24.5</text>
<text transform="translate(460.44 667.86) scale(0.7144 1)" font-size="40.8" fill="#000" stroke="#000" stroke-width="1.1" stroke-linejoin="round" letter-spacing="2.04">25</text>
<text transform="translate(519.98 667.86) scale(0.6848 1)" font-size="40.8" fill="#000" stroke="#000" stroke-width="1.1" stroke-linejoin="round" letter-spacing="2.04">25.5</text>
<text transform="translate(604.42 667.86) scale(0.7228 1)" font-size="40.8" fill="#000" stroke="#000" stroke-width="1.1" stroke-linejoin="round" letter-spacing="2.04">26</text>
<text transform="translate(663.73 667.86) scale(0.6848 1)" font-size="40.8" fill="#000" stroke="#000" stroke-width="1.1" stroke-linejoin="round" letter-spacing="2.04">26.5</text>
<text transform="translate(748.7 667.86) scale(0.7030 1)" font-size="40.8" fill="#000" stroke="#000" stroke-width="1.1" stroke-linejoin="round" letter-spacing="2.04">27</text>
<text transform="translate(807.99 667.86) scale(0.6788 1)" font-size="40.8" fill="#000" stroke="#000" stroke-width="1.1" stroke-linejoin="round" letter-spacing="2.04">27.5</text>
<text transform="translate(892.94 667.86) scale(0.7144 1)" font-size="40.8" fill="#000" stroke="#000" stroke-width="1.1" stroke-linejoin="round" letter-spacing="2.04">28</text>
<text transform="translate(952.48 667.86) scale(0.6848 1)" font-size="40.8" fill="#000" stroke="#000" stroke-width="1.1" stroke-linejoin="round" letter-spacing="2.04">28.5</text>
<text transform="translate(1036.94 667.86) scale(0.7116 1)" font-size="40.8" fill="#000" stroke="#000" stroke-width="1.1" stroke-linejoin="round" letter-spacing="2.04">29</text>
<text transform="translate(1096.23 667.86) scale(0.6848 1)" font-size="40.8" fill="#000" stroke="#000" stroke-width="1.1" stroke-linejoin="round" letter-spacing="2.04">29.5</text>
<text transform="translate(312.71 761.41) scale(0.6831 1)" font-size="40.8" fill="#000" stroke="#000" stroke-width="1.1" stroke-linejoin="round" letter-spacing="2.04">5.5</text>
<text transform="translate(397.44 761.41) scale(0.7136 1)" font-size="40.8" fill="#000" stroke="#000" stroke-width="1.1" stroke-linejoin="round" letter-spacing="2.04">6</text>
<text transform="translate(469.48 761.41) scale(0.6877 1)" font-size="40.8" fill="#000" stroke="#000" stroke-width="1.1" stroke-linejoin="round" letter-spacing="2.04">7</text>
<text transform="translate(541.44 761.41) scale(0.7016 1)" font-size="40.8" fill="#000" stroke="#000" stroke-width="1.1" stroke-linejoin="round" letter-spacing="2.04">8</text>
<text transform="translate(613.04 761.41) scale(0.7261 1)" font-size="40.8" fill="#000" stroke="#000" stroke-width="1.1" stroke-linejoin="round" letter-spacing="2.04">9</text>
<text transform="translate(673.1 761.41) scale(0.6850 1)" font-size="40.8" fill="#000" stroke="#000" stroke-width="1.1" stroke-linejoin="round" letter-spacing="2.04">9.5</text>
<text transform="translate(748.62 761.41) scale(0.7078 1)" font-size="40.8" fill="#000" stroke="#000" stroke-width="1.1" stroke-linejoin="round" letter-spacing="2.04" clip-path="url(#c21)" style="font-kerning:none">10</text>
<text transform="translate(807.42 761.41) scale(0.6944 1)" font-size="40.8" fill="#000" stroke="#000" stroke-width="1.1" stroke-linejoin="round" letter-spacing="2.04" clip-path="url(#c22)" style="font-kerning:none">10.5</text>
<text transform="translate(892.17 761.41) scale(0.7686 1)" font-size="40.8" fill="#000" stroke="#000" stroke-width="1.1" stroke-linejoin="round" letter-spacing="2.04" clip-path="url(#c23)" style="font-kerning:none">11</text>
<text transform="translate(952.48 761.41) scale(0.6759 1)" font-size="40.8" fill="#000" stroke="#000" stroke-width="1.1" stroke-linejoin="round" letter-spacing="2.04" clip-path="url(#c24)" style="font-kerning:none">11.5</text>
<text transform="translate(1037.35 761.41) scale(0.7131 1)" font-size="40.8" fill="#000" stroke="#000" stroke-width="1.1" stroke-linejoin="round" letter-spacing="2.04" clip-path="url(#c25)" style="font-kerning:none">12</text>
<text transform="translate(1109.1 761.41) scale(0.7135 1)" font-size="40.8" fill="#000" stroke="#000" stroke-width="1.1" stroke-linejoin="round" letter-spacing="2.04" clip-path="url(#c26)" style="font-kerning:none">13</text>
<text transform="translate(316.55 848.51) scale(0.7119 1)" font-size="40.8" fill="#000" stroke="#000" stroke-width="1.1" stroke-linejoin="round" letter-spacing="2.04">38</text>
<text transform="translate(388.56 848.51) scale(0.7035 1)" font-size="40.8" fill="#000" stroke="#000" stroke-width="1.1" stroke-linejoin="round" letter-spacing="2.04">39</text>
<text transform="translate(460.67 848.51) scale(0.7068 1)" font-size="40.8" fill="#000" stroke="#000" stroke-width="1.1" stroke-linejoin="round" letter-spacing="2.04">40</text>
<text transform="translate(532.65 848.51) scale(0.7370 1)" font-size="40.8" fill="#000" stroke="#000" stroke-width="1.1" stroke-linejoin="round" letter-spacing="2.04" clip-path="url(#c27)" style="font-kerning:none">41</text>
<text transform="translate(604.92 848.51) scale(0.7038 1)" font-size="40.8" fill="#000" stroke="#000" stroke-width="1.1" stroke-linejoin="round" letter-spacing="2.04">42</text>
<text transform="translate(676.92 848.51) scale(0.7066 1)" font-size="40.8" fill="#000" stroke="#000" stroke-width="1.1" stroke-linejoin="round" letter-spacing="2.04">43</text>
<text transform="translate(748.67 848.51) scale(0.7016 1)" font-size="40.8" fill="#000" stroke="#000" stroke-width="1.1" stroke-linejoin="round" letter-spacing="2.04">44</text>
<text transform="translate(821.17 848.51) scale(0.6985 1)" font-size="40.8" fill="#000" stroke="#000" stroke-width="1.1" stroke-linejoin="round" letter-spacing="2.04">45</text>
<text transform="translate(893.17 848.51) scale(0.7121 1)" font-size="40.8" fill="#000" stroke="#000" stroke-width="1.1" stroke-linejoin="round" letter-spacing="2.04">46</text>
<text transform="translate(965.17 848.51) scale(0.6983 1)" font-size="40.8" fill="#000" stroke="#000" stroke-width="1.1" stroke-linejoin="round" letter-spacing="2.04">47</text>
<text transform="translate(1037.67 848.51) scale(0.6931 1)" font-size="40.8" fill="#000" stroke="#000" stroke-width="1.1" stroke-linejoin="round" letter-spacing="2.04">48</text>
<text transform="translate(1109.42 848.51) scale(0.7066 1)" font-size="40.8" fill="#000" stroke="#000" stroke-width="1.1" stroke-linejoin="round" letter-spacing="2.04">49</text>
</g>
<g id="icons" stroke-linejoin="round" stroke-linecap="round">
<path d="M54.1 652.9 C54.2 650.9 54.85 648.23 56 646.5 C57.15 644.77 59.15 643.42 61 642.5 C62.85 641.58 63.93 641.52 67.1 641 C70.27 640.48 75.48 640.03 80 639.4 C84.52 638.77 90.2 637.93 94.2 637.2 C98.2 636.47 100.75 635.63 104 635 C107.25 634.37 111.2 633.6 113.7 633.4 C116.2 633.2 117.38 633.43 119 633.8 C120.62 634.17 122.07 634.57 123.4 635.6 C124.73 636.63 125.92 638.38 127 640 C128.08 641.62 128.98 643.3 129.9 645.3 C130.82 647.3 131.77 649.83 132.5 652 C133.23 654.17 133.97 656.3 134.3 658.3 C134.63 660.3 134.68 662.18 134.5 664 C134.32 665.82 133.87 667.73 133.2 669.2 C132.53 670.67 131.58 671.9 130.5 672.8 C129.42 673.7 128.28 674.37 126.7 674.6 C125.12 674.83 122.82 674.57 121 674.2 C119.18 673.83 118.05 673.35 115.8 672.4 C113.55 671.45 110.2 669.77 107.5 668.5 C104.8 667.23 102.27 665.62 99.6 664.8 C96.93 663.98 94.22 663.77 91.5 663.6 C88.78 663.43 86.05 663.47 83.3 663.8 C80.55 664.13 77.7 665.07 75 665.6 C72.3 666.13 69.27 666.97 67.1 667 C64.93 667.03 63.45 666.52 62 665.8 C60.55 665.08 59.5 663.92 58.4 662.7 C57.3 661.48 56.12 660.13 55.4 658.5 C54.68 656.87 54 654.9 54.1 652.9Z" fill="#8a9bb0" stroke="#0f3a63" stroke-width="2.2"/>
<ellipse cx="131" cy="636.1" rx="4.1" ry="3" transform="rotate(-10 131 636.1)" fill="#8a9bb0" stroke="#0f3a63" stroke-width="2.1"/>
<ellipse cx="137" cy="642.1" rx="4.5" ry="3.2" transform="rotate(-12 137 642.1)" fill="#8a9bb0" stroke="#0f3a63" stroke-width="2.1"/>
<ellipse cx="141.3" cy="648.8" rx="5" ry="3.5" transform="rotate(-12 141.3 648.8)" fill="#8a9bb0" stroke="#0f3a63" stroke-width="2.1"/>
<ellipse cx="144" cy="656.7" rx="5.8" ry="3.9" transform="rotate(-10 144 656.7)" fill="#8a9bb0" stroke="#0f3a63" stroke-width="2.1"/>
<ellipse cx="145.1" cy="668.1" rx="8.8" ry="6.4" transform="rotate(-5 145.1 668.1)" fill="#8a9bb0" stroke="#0f3a63" stroke-width="2.1"/>
<g fill="#7a8da3">
<rect x="53.8" y="677.3" width="1.2" height="15.5"/><rect x="153.9" y="677.3" width="1.2" height="15.5"/>
<rect x="58" y="685" width="93" height="1.3"/>
<path d="M55.6 685.6L61.8 682.4L61.8 688.8Z"/><path d="M153.4 685.6L147.2 682.4L147.2 688.8Z"/>
</g>
<path d="M54.1 757.7 C54.22 756.92 53.9 754.45 54.8 753 C55.7 751.55 57.47 750.03 59.5 749 C61.53 747.97 64.28 747.43 67 746.8 C69.72 746.17 73.22 745.83 75.8 745.2 C78.38 744.57 80.33 743.82 82.5 743 C84.67 742.18 86.38 741.63 88.8 740.3 C91.22 738.97 94.3 736.8 97 735 C99.7 733.2 102.75 731.03 105 729.5 C107.25 727.97 108.7 726.8 110.5 725.8 C112.3 724.8 114.38 723.63 115.8 723.5 C117.22 723.37 118.08 724.18 119 725 C119.92 725.82 120.73 727.32 121.3 728.4 C121.87 729.48 122.23 730.42 122.4 731.5 C122.57 732.58 121.53 734.02 122.3 734.9 C123.07 735.78 125.37 736.35 127 736.8 C128.63 737.25 130.35 737.67 132.1 737.6 C133.85 737.53 135.7 737.03 137.5 736.4 C139.3 735.77 141.48 734.57 142.9 733.8 C144.32 733.03 145.1 732.25 146 731.8 C146.9 731.35 147.6 730.73 148.3 731.1 C149 731.47 149.65 732.82 150.2 734 C150.75 735.18 151.13 736.7 151.6 738.2 C152.07 739.7 152.63 741.38 153 743 C153.37 744.62 153.62 746.23 153.8 747.9 C153.98 749.57 154.1 751.37 154.1 753 C154.1 754.63 153.85 756.92 153.8 757.7 C153.93 758.42 154.52 760.57 154.6 762 C154.68 763.43 154.57 765.2 154.3 766.3 C154.03 767.4 153.63 768.05 153 768.6 C152.37 769.15 153 769.38 150.5 769.6 C148 769.82 141.97 769.9 138 769.9 C134.03 769.9 129.37 769.87 126.7 769.6 C124.03 769.33 123.45 768.85 122 768.3 C120.55 767.75 119.75 766.42 118 766.3 C116.25 766.18 113.67 767.05 111.5 767.6 C109.33 768.15 107.92 769.05 105 769.6 C102.08 770.15 97.62 770.63 94 770.9 C90.38 771.17 86.47 771.28 83.3 771.2 C80.13 771.12 77.7 770.85 75 770.4 C72.3 769.95 69.52 769.32 67.1 768.5 C64.68 767.68 62.48 766.58 60.5 765.5 C58.52 764.42 56.27 763.3 55.2 762 C54.13 760.7 54.28 758.42 54.1 757.7Z" fill="#8496ab"/>
<path d="M54.6 757.5 C54.75 756.72 54.68 754.18 55.5 752.8 C56.32 751.42 57.58 750.17 59.5 749.2 C61.42 748.23 64.28 747.63 67 747 C69.72 746.37 73.47 745.9 75.8 745.4 C78.13 744.9 80.13 744.23 81 744 C81.13 744.67 81.3 746.8 81.8 748 C82.3 749.2 82.97 750.43 84 751.2 C85.03 751.97 86.17 752.43 88 752.6 C89.83 752.77 92.17 752.58 95 752.2 C97.83 751.82 102.17 750.63 105 750.3 C107.83 749.97 109.83 749.88 112 750.2 C114.17 750.52 115.92 750.97 118 752.2 C120.08 753.43 123.42 756.7 124.5 757.6 C123.05 758.03 119.88 759.33 115.8 760.2 C111.72 761.07 105.42 762.27 100 762.8 C94.58 763.33 88.63 763.6 83.3 763.4 C77.97 763.2 72.68 762.4 68 761.6 C63.32 760.8 57.33 759.1 55.2 758.6Z" fill="#cbd3dc"/>
<path d="M135.3 757.7 C135.58 756.75 136.27 753.63 137 752 C137.73 750.37 138.45 749.13 139.7 747.9 C140.95 746.67 142.7 745.5 144.5 744.6 C146.3 743.7 149.5 742.85 150.5 742.5 L152.2 742.5 L153.5 757.5Z" fill="#d3d7dc"/>
<path d="M56.5 761.6 C58.42 762.17 63.53 764.07 68 765 C72.47 765.93 77.97 766.97 83.3 767.2 C88.63 767.43 95.22 766.83 100 766.4 C104.78 765.97 108.92 765.13 112 764.6 C115.08 764.07 117.42 763.43 118.5 763.2" fill="none" stroke="#143a61" stroke-width="1.2" opacity="0.8"/>
<g fill="none" stroke="#143a61" stroke-width="2.1">
<path d="M54.1 757.7 C54.22 756.92 53.9 754.45 54.8 753 C55.7 751.55 57.47 750.03 59.5 749 C61.53 747.97 64.28 747.43 67 746.8 C69.72 746.17 73.22 745.83 75.8 745.2 C78.38 744.57 80.33 743.82 82.5 743 C84.67 742.18 86.38 741.63 88.8 740.3 C91.22 738.97 94.3 736.8 97 735 C99.7 733.2 102.75 731.03 105 729.5 C107.25 727.97 108.7 726.8 110.5 725.8 C112.3 724.8 114.38 723.63 115.8 723.5 C117.22 723.37 118.08 724.18 119 725 C119.92 725.82 120.73 727.32 121.3 728.4 C121.87 729.48 122.23 730.42 122.4 731.5 C122.57 732.58 121.53 734.02 122.3 734.9 C123.07 735.78 125.37 736.35 127 736.8 C128.63 737.25 130.35 737.67 132.1 737.6 C133.85 737.53 135.7 737.03 137.5 736.4 C139.3 735.77 141.48 734.57 142.9 733.8 C144.32 733.03 145.1 732.25 146 731.8 C146.9 731.35 147.6 730.73 148.3 731.1 C149 731.47 149.65 732.82 150.2 734 C150.75 735.18 151.13 736.7 151.6 738.2 C152.07 739.7 152.63 741.38 153 743 C153.37 744.62 153.62 746.23 153.8 747.9 C153.98 749.57 154.1 751.37 154.1 753 C154.1 754.63 153.85 756.92 153.8 757.7 C153.93 758.42 154.52 760.57 154.6 762 C154.68 763.43 154.57 765.2 154.3 766.3 C154.03 767.4 153.63 768.05 153 768.6 C152.37 769.15 153 769.38 150.5 769.6 C148 769.82 141.97 769.9 138 769.9 C134.03 769.9 129.37 769.87 126.7 769.6 C124.03 769.33 123.45 768.85 122 768.3 C120.55 767.75 119.75 766.42 118 766.3 C116.25 766.18 113.67 767.05 111.5 767.6 C109.33 768.15 107.92 769.05 105 769.6 C102.08 770.15 97.62 770.63 94 770.9 C90.38 771.17 86.47 771.28 83.3 771.2 C80.13 771.12 77.7 770.85 75 770.4 C72.3 769.95 69.52 769.32 67.1 768.5 C64.68 767.68 62.48 766.58 60.5 765.5 C58.52 764.42 56.27 763.3 55.2 762 C54.13 760.7 54.28 758.42 54.1 757.7Z"/>
<path d="M55.2 758.8 C57.33 759.3 63.32 761 68 761.8 C72.68 762.6 77.97 763.4 83.3 763.6 C88.63 763.8 94.58 763.53 100 763 C105.42 762.47 111.35 761.1 115.8 760.4 C120.25 759.7 122.67 759.2 126.7 758.8 C130.73 758.4 135.48 758.18 140 758 C144.52 757.82 151.5 757.75 153.8 757.7"/>
<path d="M81 744 C81.13 744.67 81.3 746.8 81.8 748 C82.3 749.2 82.97 750.43 84 751.2 C85.03 751.97 86.17 752.43 88 752.6 C89.83 752.77 92.17 752.58 95 752.2 C97.83 751.82 102.17 750.63 105 750.3 C107.83 749.97 109.83 749.88 112 750.2 C114.17 750.52 115.92 750.97 118 752.2 C120.08 753.43 123.42 756.7 124.5 757.6"/>
<path d="M135.3 757.7 C135.58 756.75 136.27 753.63 137 752 C137.73 750.37 138.45 749.13 139.7 747.9 C140.95 746.67 142.62 745.52 144.5 744.6 C146.38 743.68 149.92 742.77 151 742.4"/>
<path d="M108 727.6 C108.67 727.73 110.67 727.93 112 728.4 C113.33 728.87 114.83 729.63 116 730.4 C117.17 731.17 118.5 732.57 119 733"/>
<path d="M90.9 738.7L95.8 745.7M95.8 736L101.2 742.5M100.7 732.8L106.1 739.8" stroke-width="2.1"/>
</g>
<path d="M54.6 834 C54.45 832.27 54.87 830.4 55.4 829 C55.93 827.6 56.75 826.48 57.8 825.6 C58.85 824.72 60.25 824.22 61.7 823.7 C63.15 823.18 64.7 822.77 66.5 822.5 C68.3 822.23 69.75 822.13 72.5 822.1 C75.25 822.07 79.38 822.3 83 822.3 C86.62 822.3 90.95 822.4 94.2 822.1 C97.45 821.8 99.8 821.22 102.5 820.5 C105.2 819.78 107.73 818.65 110.4 817.8 C113.07 816.95 115.78 815.98 118.5 815.4 C121.22 814.82 123.95 814.33 126.7 814.3 C129.45 814.27 132.3 814.62 135 815.2 C137.7 815.78 140.65 816.8 142.9 817.8 C145.15 818.8 146.87 819.95 148.5 821.2 C150.13 822.45 151.78 824.08 152.7 825.3 C153.62 826.52 153.82 827.42 154 828.5 C154.18 829.58 154.02 830.62 153.8 831.8 C153.58 832.98 153.25 834.33 152.7 835.6 C152.15 836.87 151.87 838.07 150.5 839.4 C149.13 840.73 146.67 842.33 144.5 843.6 C142.33 844.87 140 846 137.5 847 C135 848 132.2 848.97 129.5 849.6 C126.8 850.23 124.05 850.63 121.3 850.8 C118.55 850.97 115.72 850.78 113 850.6 C110.28 850.42 107.67 850.1 105 849.7 C102.33 849.3 99.7 848.65 97 848.2 C94.3 847.75 91.55 847.23 88.8 847 C86.05 846.77 83.22 846.8 80.5 846.8 C77.78 846.8 74.83 847.07 72.5 847 C70.17 846.93 68.3 846.77 66.5 846.4 C64.7 846.03 63.07 845.47 61.7 844.8 C60.33 844.13 59.2 843.3 58.3 842.4 C57.4 841.5 56.92 840.8 56.3 839.4 C55.68 838 54.75 835.73 54.6 834Z" fill="#8499b0"/>
<path d="M66 844.4 C67.5 844.33 71.33 844.13 75 844 C78.67 843.87 84.17 843.5 88 843.6 C91.83 843.7 94.67 844.1 98 844.6 C101.33 845.1 104.67 846.03 108 846.6 C111.33 847.17 114.67 847.8 118 848 C121.33 848.2 125.33 848 128 847.8 C130.67 847.6 133 846.97 134 846.8 C133 847.23 130.12 848.8 128 849.4 C125.88 850 123.8 850.27 121.3 850.4 C118.8 850.53 115.72 850.38 113 850.2 C110.28 850.02 107.67 849.7 105 849.3 C102.33 848.9 99.7 848.25 97 847.8 C94.3 847.35 91.55 846.83 88.8 846.6 C86.05 846.37 83.22 846.4 80.5 846.4 C77.78 846.4 74.92 846.93 72.5 846.6 C70.08 846.27 67.08 844.77 66 844.4Z" fill="#c3cad2" opacity="0.85"/>
<path d="M54.6 834 C54.45 832.27 54.87 830.4 55.4 829 C55.93 827.6 56.75 826.48 57.8 825.6 C58.85 824.72 60.25 824.22 61.7 823.7 C63.15 823.18 64.7 822.77 66.5 822.5 C68.3 822.23 69.75 822.13 72.5 822.1 C75.25 822.07 79.38 822.3 83 822.3 C86.62 822.3 90.95 822.4 94.2 822.1 C97.45 821.8 99.8 821.22 102.5 820.5 C105.2 819.78 107.73 818.65 110.4 817.8 C113.07 816.95 115.78 815.98 118.5 815.4 C121.22 814.82 123.95 814.33 126.7 814.3 C129.45 814.27 132.3 814.62 135 815.2 C137.7 815.78 140.65 816.8 142.9 817.8 C145.15 818.8 146.87 819.95 148.5 821.2 C150.13 822.45 151.78 824.08 152.7 825.3 C153.62 826.52 153.82 827.42 154 828.5 C154.18 829.58 154.02 830.62 153.8 831.8 C153.58 832.98 153.25 834.33 152.7 835.6 C152.15 836.87 151.87 838.07 150.5 839.4 C149.13 840.73 146.67 842.33 144.5 843.6 C142.33 844.87 140 846 137.5 847 C135 848 132.2 848.97 129.5 849.6 C126.8 850.23 124.05 850.63 121.3 850.8 C118.55 850.97 115.72 850.78 113 850.6 C110.28 850.42 107.67 850.1 105 849.7 C102.33 849.3 99.7 848.65 97 848.2 C94.3 847.75 91.55 847.23 88.8 847 C86.05 846.77 83.22 846.8 80.5 846.8 C77.78 846.8 74.83 847.07 72.5 847 C70.17 846.93 68.3 846.77 66.5 846.4 C64.7 846.03 63.07 845.47 61.7 844.8 C60.33 844.13 59.2 843.3 58.3 842.4 C57.4 841.5 56.92 840.8 56.3 839.4 C55.68 838 54.75 835.73 54.6 834Z" fill="none" stroke="#10395f" stroke-width="2.3"/>
</g>
</svg>
</body>
</html>
